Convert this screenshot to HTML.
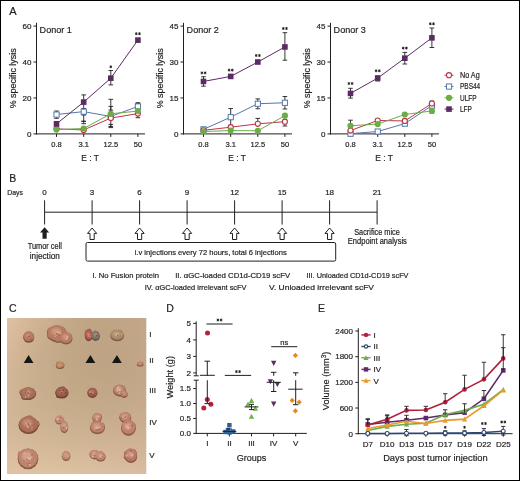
<!DOCTYPE html>
<html><head><meta charset="utf-8"><style>
html,body{margin:0;padding:0;background:#fff;overflow:hidden;}
svg{display:block;will-change:transform;}
text{font-family:"Liberation Sans", sans-serif;stroke:#231f20;stroke-width:0.2px;}
</style></head><body>
<svg width="520" height="481" viewBox="0 0 520 481" font-family='"Liberation Sans", sans-serif'>
<rect x="0" y="0" width="520" height="481" fill="#fff"/>
<text x="9.30" y="15.40" font-size="11" text-anchor="start" fill="#231f20" >A</text>
<line x1="36.50" y1="22.80" x2="36.50" y2="134.40" stroke="#231f20" stroke-width="1" />
<line x1="36.00" y1="133.90" x2="145.00" y2="133.90" stroke="#231f20" stroke-width="1" />
<line x1="33.50" y1="133.90" x2="36.50" y2="133.90" stroke="#231f20" stroke-width="1" />
<text x="31.50" y="136.70" font-size="8" text-anchor="end" fill="#231f20" >0</text>
<line x1="33.50" y1="97.97" x2="36.50" y2="97.97" stroke="#231f20" stroke-width="1" />
<text x="31.50" y="100.77" font-size="8" text-anchor="end" fill="#231f20" >20</text>
<line x1="33.50" y1="62.03" x2="36.50" y2="62.03" stroke="#231f20" stroke-width="1" />
<text x="31.50" y="64.83" font-size="8" text-anchor="end" fill="#231f20" >40</text>
<line x1="33.50" y1="26.10" x2="36.50" y2="26.10" stroke="#231f20" stroke-width="1" />
<text x="31.50" y="28.90" font-size="8" text-anchor="end" fill="#231f20" >60</text>
<line x1="56.50" y1="133.90" x2="56.50" y2="136.90" stroke="#231f20" stroke-width="1" />
<text x="56.50" y="147.30" font-size="7.5" text-anchor="middle" fill="#231f20" >0.8</text>
<line x1="83.70" y1="133.90" x2="83.70" y2="136.90" stroke="#231f20" stroke-width="1" />
<text x="83.70" y="147.30" font-size="7.5" text-anchor="middle" fill="#231f20" >3.1</text>
<line x1="110.80" y1="133.90" x2="110.80" y2="136.90" stroke="#231f20" stroke-width="1" />
<text x="110.80" y="147.30" font-size="7.5" text-anchor="middle" fill="#231f20" >12.5</text>
<line x1="137.90" y1="133.90" x2="137.90" y2="136.90" stroke="#231f20" stroke-width="1" />
<text x="137.90" y="147.30" font-size="7.5" text-anchor="middle" fill="#231f20" >50</text>
<text x="90.00" y="161.00" font-size="9.6" text-anchor="middle" fill="#231f20" textLength="17.6" lengthAdjust="spacingAndGlyphs" >E : T</text>
<text x="39.60" y="33.40" font-size="9.6" text-anchor="start" fill="#231f20" textLength="32.2" lengthAdjust="spacingAndGlyphs" >Donor 1</text>
<text transform="translate(15.70,78.3) rotate(-90)" font-size="9.2" text-anchor="middle" fill="#231f20" textLength="60" lengthAdjust="spacingAndGlyphs">% specific lysis</text>
<line x1="56.50" y1="111.00" x2="56.50" y2="118.30" stroke="#231f20" stroke-width="0.9" />
<line x1="54.20" y1="111.00" x2="58.80" y2="111.00" stroke="#231f20" stroke-width="0.9" />
<line x1="54.20" y1="118.30" x2="58.80" y2="118.30" stroke="#231f20" stroke-width="0.9" />
<line x1="56.50" y1="121.80" x2="56.50" y2="126.50" stroke="#231f20" stroke-width="0.9" />
<line x1="54.20" y1="121.80" x2="58.80" y2="121.80" stroke="#231f20" stroke-width="0.9" />
<line x1="54.20" y1="126.50" x2="58.80" y2="126.50" stroke="#231f20" stroke-width="0.9" />
<line x1="83.70" y1="94.90" x2="83.70" y2="109.50" stroke="#231f20" stroke-width="0.9" />
<line x1="81.40" y1="94.90" x2="86.00" y2="94.90" stroke="#231f20" stroke-width="0.9" />
<line x1="81.40" y1="109.50" x2="86.00" y2="109.50" stroke="#231f20" stroke-width="0.9" />
<line x1="83.70" y1="108.60" x2="83.70" y2="114.80" stroke="#231f20" stroke-width="0.9" />
<line x1="81.40" y1="108.60" x2="86.00" y2="108.60" stroke="#231f20" stroke-width="0.9" />
<line x1="81.40" y1="114.80" x2="86.00" y2="114.80" stroke="#231f20" stroke-width="0.9" />
<line x1="83.70" y1="114.80" x2="83.70" y2="123.70" stroke="#231f20" stroke-width="0.9" />
<line x1="81.40" y1="114.80" x2="86.00" y2="114.80" stroke="#231f20" stroke-width="0.9" />
<line x1="81.40" y1="123.70" x2="86.00" y2="123.70" stroke="#231f20" stroke-width="0.9" />
<line x1="83.70" y1="121.30" x2="83.70" y2="121.30" stroke="#231f20" stroke-width="0.9" />
<line x1="81.40" y1="121.30" x2="86.00" y2="121.30" stroke="#231f20" stroke-width="0.9" />
<line x1="81.40" y1="121.30" x2="86.00" y2="121.30" stroke="#231f20" stroke-width="0.9" />
<line x1="110.80" y1="70.50" x2="110.80" y2="84.90" stroke="#231f20" stroke-width="0.9" />
<line x1="108.50" y1="70.50" x2="113.10" y2="70.50" stroke="#231f20" stroke-width="0.9" />
<line x1="108.50" y1="84.90" x2="113.10" y2="84.90" stroke="#231f20" stroke-width="0.9" />
<line x1="110.80" y1="99.30" x2="110.80" y2="127.60" stroke="#231f20" stroke-width="0.9" />
<line x1="108.50" y1="99.30" x2="113.10" y2="99.30" stroke="#231f20" stroke-width="0.9" />
<line x1="108.50" y1="127.60" x2="113.10" y2="127.60" stroke="#231f20" stroke-width="0.9" />
<line x1="110.80" y1="106.40" x2="110.80" y2="110.10" stroke="#231f20" stroke-width="0.9" />
<line x1="108.50" y1="106.40" x2="113.10" y2="106.40" stroke="#231f20" stroke-width="0.9" />
<line x1="108.50" y1="110.10" x2="113.10" y2="110.10" stroke="#231f20" stroke-width="0.9" />
<line x1="110.80" y1="124.40" x2="110.80" y2="126.50" stroke="#231f20" stroke-width="0.9" />
<line x1="108.50" y1="124.40" x2="113.10" y2="124.40" stroke="#231f20" stroke-width="0.9" />
<line x1="108.50" y1="126.50" x2="113.10" y2="126.50" stroke="#231f20" stroke-width="0.9" />
<line x1="137.90" y1="102.70" x2="137.90" y2="117.70" stroke="#231f20" stroke-width="0.9" />
<line x1="135.60" y1="102.70" x2="140.20" y2="102.70" stroke="#231f20" stroke-width="0.9" />
<line x1="135.60" y1="117.70" x2="140.20" y2="117.70" stroke="#231f20" stroke-width="0.9" />
<line x1="137.90" y1="103.80" x2="137.90" y2="103.80" stroke="#231f20" stroke-width="0.9" />
<line x1="135.60" y1="103.80" x2="140.20" y2="103.80" stroke="#231f20" stroke-width="0.9" />
<line x1="135.60" y1="103.80" x2="140.20" y2="103.80" stroke="#231f20" stroke-width="0.9" />
<line x1="137.90" y1="38.60" x2="137.90" y2="41.80" stroke="#231f20" stroke-width="0.9" />
<line x1="135.60" y1="38.60" x2="140.20" y2="38.60" stroke="#231f20" stroke-width="0.9" />
<line x1="135.60" y1="41.80" x2="140.20" y2="41.80" stroke="#231f20" stroke-width="0.9" />
<polyline points="56.50,114.50 83.70,111.62 110.80,116.47 137.90,106.41" fill="none" stroke="#5677a8" stroke-width="1"/>
<polyline points="56.50,128.87 83.70,129.95 110.80,118.09 137.90,113.60" fill="none" stroke="#bd3548" stroke-width="1"/>
<polyline points="56.50,129.59 83.70,128.51 110.80,113.78 137.90,111.08" fill="none" stroke="#6cad48" stroke-width="1"/>
<polyline points="56.50,123.84 83.70,102.10 110.80,78.20 137.90,40.11" fill="none" stroke="#5b2c63" stroke-width="1"/>
<rect x="53.95" y="111.95" width="5.20" height="5.20" fill="#fff" stroke="#5677a8" stroke-width="1.0"/>
<rect x="81.15" y="109.07" width="5.20" height="5.20" fill="#fff" stroke="#5677a8" stroke-width="1.0"/>
<rect x="108.25" y="113.92" width="5.20" height="5.20" fill="#fff" stroke="#5677a8" stroke-width="1.0"/>
<rect x="135.35" y="103.86" width="5.20" height="5.20" fill="#fff" stroke="#5677a8" stroke-width="1.0"/>
<circle cx="56.50" cy="128.87" r="2.55" fill="#fff" stroke="#bd3548" stroke-width="1.1"/>
<circle cx="83.70" cy="129.95" r="2.55" fill="#fff" stroke="#bd3548" stroke-width="1.1"/>
<circle cx="110.80" cy="118.09" r="2.55" fill="#fff" stroke="#bd3548" stroke-width="1.1"/>
<circle cx="137.90" cy="113.60" r="2.55" fill="#fff" stroke="#bd3548" stroke-width="1.1"/>
<circle cx="56.50" cy="129.59" r="3.1" fill="#6cad48"/>
<circle cx="83.70" cy="128.51" r="3.1" fill="#6cad48"/>
<circle cx="110.80" cy="113.78" r="3.1" fill="#6cad48"/>
<circle cx="137.90" cy="111.08" r="3.1" fill="#6cad48"/>
<rect x="53.70" y="121.04" width="5.6" height="5.6" fill="#5b2c63"/>
<rect x="80.90" y="99.30" width="5.6" height="5.6" fill="#5b2c63"/>
<rect x="108.00" y="75.40" width="5.6" height="5.6" fill="#5b2c63"/>
<rect x="135.10" y="37.31" width="5.6" height="5.6" fill="#5b2c63"/>
<path d="M110.80,65.40L110.80,68.20M109.59,66.10L112.01,67.50M109.59,67.50L112.01,66.10" stroke="#231f20" stroke-width="0.95" fill="none"/>
<path d="M136.30,32.30L136.30,35.10M135.09,33.00L137.51,34.40M135.09,34.40L137.51,33.00" stroke="#231f20" stroke-width="0.95" fill="none"/>
<path d="M139.50,32.30L139.50,35.10M138.29,33.00L140.71,34.40M138.29,34.40L140.71,33.00" stroke="#231f20" stroke-width="0.95" fill="none"/>
<line x1="183.50" y1="22.80" x2="183.50" y2="134.40" stroke="#231f20" stroke-width="1" />
<line x1="183.00" y1="133.90" x2="292.00" y2="133.90" stroke="#231f20" stroke-width="1" />
<line x1="180.50" y1="133.90" x2="183.50" y2="133.90" stroke="#231f20" stroke-width="1" />
<text x="178.50" y="136.70" font-size="8" text-anchor="end" fill="#231f20" >0</text>
<line x1="180.50" y1="97.97" x2="183.50" y2="97.97" stroke="#231f20" stroke-width="1" />
<text x="178.50" y="100.77" font-size="8" text-anchor="end" fill="#231f20" >15</text>
<line x1="180.50" y1="62.03" x2="183.50" y2="62.03" stroke="#231f20" stroke-width="1" />
<text x="178.50" y="64.83" font-size="8" text-anchor="end" fill="#231f20" >30</text>
<line x1="180.50" y1="26.10" x2="183.50" y2="26.10" stroke="#231f20" stroke-width="1" />
<text x="178.50" y="28.90" font-size="8" text-anchor="end" fill="#231f20" >45</text>
<line x1="203.50" y1="133.90" x2="203.50" y2="136.90" stroke="#231f20" stroke-width="1" />
<text x="203.50" y="147.30" font-size="7.5" text-anchor="middle" fill="#231f20" >0.8</text>
<line x1="230.70" y1="133.90" x2="230.70" y2="136.90" stroke="#231f20" stroke-width="1" />
<text x="230.70" y="147.30" font-size="7.5" text-anchor="middle" fill="#231f20" >3.1</text>
<line x1="257.80" y1="133.90" x2="257.80" y2="136.90" stroke="#231f20" stroke-width="1" />
<text x="257.80" y="147.30" font-size="7.5" text-anchor="middle" fill="#231f20" >12.5</text>
<line x1="284.90" y1="133.90" x2="284.90" y2="136.90" stroke="#231f20" stroke-width="1" />
<text x="284.90" y="147.30" font-size="7.5" text-anchor="middle" fill="#231f20" >50</text>
<text x="237.00" y="161.00" font-size="9.6" text-anchor="middle" fill="#231f20" textLength="17.6" lengthAdjust="spacingAndGlyphs" >E : T</text>
<text x="186.60" y="33.40" font-size="9.6" text-anchor="start" fill="#231f20" textLength="32.2" lengthAdjust="spacingAndGlyphs" >Donor 2</text>
<text transform="translate(162.70,78.3) rotate(-90)" font-size="9.2" text-anchor="middle" fill="#231f20" textLength="60" lengthAdjust="spacingAndGlyphs">% specific lysis</text>
<line x1="203.50" y1="76.70" x2="203.50" y2="86.20" stroke="#231f20" stroke-width="0.9" />
<line x1="201.20" y1="76.70" x2="205.80" y2="76.70" stroke="#231f20" stroke-width="0.9" />
<line x1="201.20" y1="86.20" x2="205.80" y2="86.20" stroke="#231f20" stroke-width="0.9" />
<line x1="203.50" y1="127.30" x2="203.50" y2="131.00" stroke="#231f20" stroke-width="0.9" />
<line x1="201.20" y1="127.30" x2="205.80" y2="127.30" stroke="#231f20" stroke-width="0.9" />
<line x1="201.20" y1="131.00" x2="205.80" y2="131.00" stroke="#231f20" stroke-width="0.9" />
<line x1="230.70" y1="108.50" x2="230.70" y2="125.30" stroke="#231f20" stroke-width="0.9" />
<line x1="228.40" y1="108.50" x2="233.00" y2="108.50" stroke="#231f20" stroke-width="0.9" />
<line x1="228.40" y1="125.30" x2="233.00" y2="125.30" stroke="#231f20" stroke-width="0.9" />
<line x1="230.70" y1="74.80" x2="230.70" y2="78.20" stroke="#231f20" stroke-width="0.9" />
<line x1="228.40" y1="74.80" x2="233.00" y2="74.80" stroke="#231f20" stroke-width="0.9" />
<line x1="228.40" y1="78.20" x2="233.00" y2="78.20" stroke="#231f20" stroke-width="0.9" />
<line x1="257.80" y1="98.90" x2="257.80" y2="108.75" stroke="#231f20" stroke-width="0.9" />
<line x1="255.50" y1="98.90" x2="260.10" y2="98.90" stroke="#231f20" stroke-width="0.9" />
<line x1="255.50" y1="108.75" x2="260.10" y2="108.75" stroke="#231f20" stroke-width="0.9" />
<line x1="257.80" y1="118.40" x2="257.80" y2="123.90" stroke="#231f20" stroke-width="0.9" />
<line x1="255.50" y1="118.40" x2="260.10" y2="118.40" stroke="#231f20" stroke-width="0.9" />
<line x1="257.80" y1="60.30" x2="257.80" y2="63.50" stroke="#231f20" stroke-width="0.9" />
<line x1="255.50" y1="60.30" x2="260.10" y2="60.30" stroke="#231f20" stroke-width="0.9" />
<line x1="255.50" y1="63.50" x2="260.10" y2="63.50" stroke="#231f20" stroke-width="0.9" />
<line x1="284.90" y1="96.50" x2="284.90" y2="109.00" stroke="#231f20" stroke-width="0.9" />
<line x1="282.60" y1="96.50" x2="287.20" y2="96.50" stroke="#231f20" stroke-width="0.9" />
<line x1="282.60" y1="109.00" x2="287.20" y2="109.00" stroke="#231f20" stroke-width="0.9" />
<line x1="284.90" y1="121.70" x2="284.90" y2="126.00" stroke="#231f20" stroke-width="0.9" />
<line x1="282.60" y1="126.00" x2="287.20" y2="126.00" stroke="#231f20" stroke-width="0.9" />
<line x1="284.90" y1="32.70" x2="284.90" y2="60.20" stroke="#231f20" stroke-width="0.9" />
<line x1="282.60" y1="32.70" x2="287.20" y2="32.70" stroke="#231f20" stroke-width="0.9" />
<line x1="282.60" y1="60.20" x2="287.20" y2="60.20" stroke="#231f20" stroke-width="0.9" />
<polyline points="203.50,129.35 230.70,117.13 257.80,103.72 284.90,102.76" fill="none" stroke="#5677a8" stroke-width="1"/>
<polyline points="203.50,130.31 230.70,127.19 257.80,123.84 284.90,121.68" fill="none" stroke="#bd3548" stroke-width="1"/>
<polyline points="203.50,131.50 230.70,130.55 257.80,130.79 284.90,115.69" fill="none" stroke="#6cad48" stroke-width="1"/>
<polyline points="203.50,81.44 230.70,76.41 257.80,62.03 284.90,46.94" fill="none" stroke="#5b2c63" stroke-width="1"/>
<rect x="200.95" y="126.80" width="5.20" height="5.20" fill="#fff" stroke="#5677a8" stroke-width="1.0"/>
<rect x="228.15" y="114.58" width="5.20" height="5.20" fill="#fff" stroke="#5677a8" stroke-width="1.0"/>
<rect x="255.25" y="101.17" width="5.20" height="5.20" fill="#fff" stroke="#5677a8" stroke-width="1.0"/>
<rect x="282.35" y="100.21" width="5.20" height="5.20" fill="#fff" stroke="#5677a8" stroke-width="1.0"/>
<circle cx="203.50" cy="130.31" r="2.55" fill="#fff" stroke="#bd3548" stroke-width="1.1"/>
<circle cx="230.70" cy="127.19" r="2.55" fill="#fff" stroke="#bd3548" stroke-width="1.1"/>
<circle cx="257.80" cy="123.84" r="2.55" fill="#fff" stroke="#bd3548" stroke-width="1.1"/>
<circle cx="284.90" cy="121.68" r="2.55" fill="#fff" stroke="#bd3548" stroke-width="1.1"/>
<circle cx="203.50" cy="131.50" r="3.1" fill="#6cad48"/>
<circle cx="230.70" cy="130.55" r="3.1" fill="#6cad48"/>
<circle cx="257.80" cy="130.79" r="3.1" fill="#6cad48"/>
<circle cx="284.90" cy="115.69" r="3.1" fill="#6cad48"/>
<rect x="200.70" y="78.64" width="5.6" height="5.6" fill="#5b2c63"/>
<rect x="227.90" y="73.61" width="5.6" height="5.6" fill="#5b2c63"/>
<rect x="255.00" y="59.23" width="5.6" height="5.6" fill="#5b2c63"/>
<rect x="282.10" y="44.14" width="5.6" height="5.6" fill="#5b2c63"/>
<path d="M201.90,71.50L201.90,74.30M200.69,72.20L203.11,73.60M200.69,73.60L203.11,72.20" stroke="#231f20" stroke-width="0.95" fill="none"/>
<path d="M205.10,71.50L205.10,74.30M203.89,72.20L206.31,73.60M203.89,73.60L206.31,72.20" stroke="#231f20" stroke-width="0.95" fill="none"/>
<path d="M229.10,68.70L229.10,71.50M227.89,69.40L230.31,70.80M227.89,70.80L230.31,69.40" stroke="#231f20" stroke-width="0.95" fill="none"/>
<path d="M232.30,68.70L232.30,71.50M231.09,69.40L233.51,70.80M231.09,70.80L233.51,69.40" stroke="#231f20" stroke-width="0.95" fill="none"/>
<path d="M256.20,54.10L256.20,56.90M254.99,54.80L257.41,56.20M254.99,56.20L257.41,54.80" stroke="#231f20" stroke-width="0.95" fill="none"/>
<path d="M259.40,54.10L259.40,56.90M258.19,54.80L260.61,56.20M258.19,56.20L260.61,54.80" stroke="#231f20" stroke-width="0.95" fill="none"/>
<path d="M283.30,27.10L283.30,29.90M282.09,27.80L284.51,29.20M282.09,29.20L284.51,27.80" stroke="#231f20" stroke-width="0.95" fill="none"/>
<path d="M286.50,27.10L286.50,29.90M285.29,27.80L287.71,29.20M285.29,29.20L287.71,27.80" stroke="#231f20" stroke-width="0.95" fill="none"/>
<line x1="330.50" y1="22.80" x2="330.50" y2="134.40" stroke="#231f20" stroke-width="1" />
<line x1="330.00" y1="133.90" x2="439.00" y2="133.90" stroke="#231f20" stroke-width="1" />
<line x1="327.50" y1="133.90" x2="330.50" y2="133.90" stroke="#231f20" stroke-width="1" />
<text x="325.50" y="136.70" font-size="8" text-anchor="end" fill="#231f20" >0</text>
<line x1="327.50" y1="97.97" x2="330.50" y2="97.97" stroke="#231f20" stroke-width="1" />
<text x="325.50" y="100.77" font-size="8" text-anchor="end" fill="#231f20" >15</text>
<line x1="327.50" y1="62.03" x2="330.50" y2="62.03" stroke="#231f20" stroke-width="1" />
<text x="325.50" y="64.83" font-size="8" text-anchor="end" fill="#231f20" >30</text>
<line x1="327.50" y1="26.10" x2="330.50" y2="26.10" stroke="#231f20" stroke-width="1" />
<text x="325.50" y="28.90" font-size="8" text-anchor="end" fill="#231f20" >45</text>
<line x1="350.50" y1="133.90" x2="350.50" y2="136.90" stroke="#231f20" stroke-width="1" />
<text x="350.50" y="147.30" font-size="7.5" text-anchor="middle" fill="#231f20" >0.8</text>
<line x1="377.70" y1="133.90" x2="377.70" y2="136.90" stroke="#231f20" stroke-width="1" />
<text x="377.70" y="147.30" font-size="7.5" text-anchor="middle" fill="#231f20" >3.1</text>
<line x1="404.80" y1="133.90" x2="404.80" y2="136.90" stroke="#231f20" stroke-width="1" />
<text x="404.80" y="147.30" font-size="7.5" text-anchor="middle" fill="#231f20" >12.5</text>
<line x1="431.90" y1="133.90" x2="431.90" y2="136.90" stroke="#231f20" stroke-width="1" />
<text x="431.90" y="147.30" font-size="7.5" text-anchor="middle" fill="#231f20" >50</text>
<text x="384.00" y="161.00" font-size="9.6" text-anchor="middle" fill="#231f20" textLength="17.6" lengthAdjust="spacingAndGlyphs" >E : T</text>
<text x="333.60" y="33.40" font-size="9.6" text-anchor="start" fill="#231f20" textLength="32.2" lengthAdjust="spacingAndGlyphs" >Donor 3</text>
<text transform="translate(309.70,78.3) rotate(-90)" font-size="9.2" text-anchor="middle" fill="#231f20" textLength="60" lengthAdjust="spacingAndGlyphs">% specific lysis</text>
<line x1="350.50" y1="88.30" x2="350.50" y2="98.10" stroke="#231f20" stroke-width="0.9" />
<line x1="348.20" y1="88.30" x2="352.80" y2="88.30" stroke="#231f20" stroke-width="0.9" />
<line x1="348.20" y1="98.10" x2="352.80" y2="98.10" stroke="#231f20" stroke-width="0.9" />
<line x1="350.50" y1="120.20" x2="350.50" y2="125.60" stroke="#231f20" stroke-width="0.9" />
<line x1="348.20" y1="120.20" x2="352.80" y2="120.20" stroke="#231f20" stroke-width="0.9" />
<line x1="377.70" y1="76.00" x2="377.70" y2="81.00" stroke="#231f20" stroke-width="0.9" />
<line x1="375.40" y1="76.00" x2="380.00" y2="76.00" stroke="#231f20" stroke-width="0.9" />
<line x1="375.40" y1="81.00" x2="380.00" y2="81.00" stroke="#231f20" stroke-width="0.9" />
<line x1="404.80" y1="52.40" x2="404.80" y2="64.00" stroke="#231f20" stroke-width="0.9" />
<line x1="402.50" y1="52.40" x2="407.10" y2="52.40" stroke="#231f20" stroke-width="0.9" />
<line x1="402.50" y1="64.00" x2="407.10" y2="64.00" stroke="#231f20" stroke-width="0.9" />
<line x1="431.90" y1="28.00" x2="431.90" y2="47.50" stroke="#231f20" stroke-width="0.9" />
<line x1="429.60" y1="28.00" x2="434.20" y2="28.00" stroke="#231f20" stroke-width="0.9" />
<line x1="429.60" y1="47.50" x2="434.20" y2="47.50" stroke="#231f20" stroke-width="0.9" />
<line x1="431.90" y1="101.00" x2="431.90" y2="113.00" stroke="#231f20" stroke-width="0.9" />
<line x1="429.60" y1="101.00" x2="434.20" y2="101.00" stroke="#231f20" stroke-width="0.9" />
<line x1="429.60" y1="113.00" x2="434.20" y2="113.00" stroke="#231f20" stroke-width="0.9" />
<polyline points="350.50,133.66 377.70,131.50 404.80,123.60 431.90,105.63" fill="none" stroke="#5677a8" stroke-width="1"/>
<polyline points="350.50,130.55 377.70,120.48 404.80,120.96 431.90,103.48" fill="none" stroke="#bd3548" stroke-width="1"/>
<polyline points="350.50,125.76 377.70,124.08 404.80,114.50 431.90,110.90" fill="none" stroke="#6cad48" stroke-width="1"/>
<polyline points="350.50,93.42 377.70,78.08 404.80,58.20 431.90,37.84" fill="none" stroke="#5b2c63" stroke-width="1"/>
<rect x="347.95" y="131.11" width="5.20" height="5.20" fill="#fff" stroke="#5677a8" stroke-width="1.0"/>
<rect x="375.15" y="128.95" width="5.20" height="5.20" fill="#fff" stroke="#5677a8" stroke-width="1.0"/>
<rect x="402.25" y="121.05" width="5.20" height="5.20" fill="#fff" stroke="#5677a8" stroke-width="1.0"/>
<rect x="429.35" y="103.08" width="5.20" height="5.20" fill="#fff" stroke="#5677a8" stroke-width="1.0"/>
<circle cx="350.50" cy="130.55" r="2.55" fill="#fff" stroke="#bd3548" stroke-width="1.1"/>
<circle cx="377.70" cy="120.48" r="2.55" fill="#fff" stroke="#bd3548" stroke-width="1.1"/>
<circle cx="404.80" cy="120.96" r="2.55" fill="#fff" stroke="#bd3548" stroke-width="1.1"/>
<circle cx="431.90" cy="103.48" r="2.55" fill="#fff" stroke="#bd3548" stroke-width="1.1"/>
<circle cx="350.50" cy="125.76" r="3.1" fill="#6cad48"/>
<circle cx="377.70" cy="124.08" r="3.1" fill="#6cad48"/>
<circle cx="404.80" cy="114.50" r="3.1" fill="#6cad48"/>
<circle cx="431.90" cy="110.90" r="3.1" fill="#6cad48"/>
<rect x="347.70" y="90.62" width="5.6" height="5.6" fill="#5b2c63"/>
<rect x="374.90" y="75.28" width="5.6" height="5.6" fill="#5b2c63"/>
<rect x="402.00" y="55.40" width="5.6" height="5.6" fill="#5b2c63"/>
<rect x="429.10" y="35.04" width="5.6" height="5.6" fill="#5b2c63"/>
<path d="M348.90,82.10L348.90,84.90M347.69,82.80L350.11,84.20M347.69,84.20L350.11,82.80" stroke="#231f20" stroke-width="0.95" fill="none"/>
<path d="M352.10,82.10L352.10,84.90M350.89,82.80L353.31,84.20M350.89,84.20L353.31,82.80" stroke="#231f20" stroke-width="0.95" fill="none"/>
<path d="M376.10,69.40L376.10,72.20M374.89,70.10L377.31,71.50M374.89,71.50L377.31,70.10" stroke="#231f20" stroke-width="0.95" fill="none"/>
<path d="M379.30,69.40L379.30,72.20M378.09,70.10L380.51,71.50M378.09,71.50L380.51,70.10" stroke="#231f20" stroke-width="0.95" fill="none"/>
<path d="M403.20,46.70L403.20,49.50M401.99,47.40L404.41,48.80M401.99,48.80L404.41,47.40" stroke="#231f20" stroke-width="0.95" fill="none"/>
<path d="M406.40,46.70L406.40,49.50M405.19,47.40L407.61,48.80M405.19,48.80L407.61,47.40" stroke="#231f20" stroke-width="0.95" fill="none"/>
<path d="M430.30,22.40L430.30,25.20M429.09,23.10L431.51,24.50M429.09,24.50L431.51,23.10" stroke="#231f20" stroke-width="0.95" fill="none"/>
<path d="M433.50,22.40L433.50,25.20M432.29,23.10L434.71,24.50M432.29,24.50L434.71,23.10" stroke="#231f20" stroke-width="0.95" fill="none"/>
<line x1="444.50" y1="75.20" x2="453.50" y2="75.20" stroke="#bd3548" stroke-width="1" />
<circle cx="449.00" cy="75.20" r="2.55" fill="#fff" stroke="#bd3548" stroke-width="1.1"/>
<text x="460.00" y="78.10" font-size="8.2" text-anchor="start" fill="#231f20" textLength="19.7" lengthAdjust="spacingAndGlyphs" >No Ag</text>
<line x1="444.50" y1="86.50" x2="453.50" y2="86.50" stroke="#5677a8" stroke-width="1" />
<rect x="446.45" y="83.95" width="5.20" height="5.20" fill="#fff" stroke="#5677a8" stroke-width="1.0"/>
<text x="460.00" y="89.40" font-size="8.2" text-anchor="start" fill="#231f20" textLength="20.2" lengthAdjust="spacingAndGlyphs" >PBS44</text>
<line x1="444.50" y1="97.80" x2="453.50" y2="97.80" stroke="#6cad48" stroke-width="1" />
<circle cx="449.00" cy="97.80" r="3.1" fill="#6cad48"/>
<text x="460.00" y="100.70" font-size="8.2" text-anchor="start" fill="#231f20" textLength="16.7" lengthAdjust="spacingAndGlyphs" >ULFP</text>
<line x1="444.50" y1="109.10" x2="453.50" y2="109.10" stroke="#5b2c63" stroke-width="1" />
<rect x="446.20" y="106.30" width="5.6" height="5.6" fill="#5b2c63"/>
<text x="460.00" y="112.00" font-size="8.2" text-anchor="start" fill="#231f20" textLength="11.9" lengthAdjust="spacingAndGlyphs" >LFP</text>
<text x="9.20" y="182.00" font-size="10.5" text-anchor="start" fill="#231f20" >B</text>
<text x="7.20" y="195.40" font-size="8" text-anchor="start" fill="#231f20" textLength="15.8" lengthAdjust="spacingAndGlyphs" >Days</text>
<line x1="44.60" y1="212.20" x2="377.10" y2="212.20" stroke="#231f20" stroke-width="1" />
<line x1="44.60" y1="200.30" x2="44.60" y2="224.50" stroke="#231f20" stroke-width="1" />
<text x="44.60" y="195.10" font-size="8" text-anchor="middle" fill="#231f20" >0</text>
<line x1="92.10" y1="200.30" x2="92.10" y2="224.50" stroke="#231f20" stroke-width="1" />
<text x="92.10" y="195.10" font-size="8" text-anchor="middle" fill="#231f20" >3</text>
<line x1="139.60" y1="200.30" x2="139.60" y2="224.50" stroke="#231f20" stroke-width="1" />
<text x="139.60" y="195.10" font-size="8" text-anchor="middle" fill="#231f20" >6</text>
<line x1="187.10" y1="200.30" x2="187.10" y2="224.50" stroke="#231f20" stroke-width="1" />
<text x="187.10" y="195.10" font-size="8" text-anchor="middle" fill="#231f20" >9</text>
<line x1="234.60" y1="200.30" x2="234.60" y2="224.50" stroke="#231f20" stroke-width="1" />
<text x="234.60" y="195.10" font-size="8" text-anchor="middle" fill="#231f20" >12</text>
<line x1="282.10" y1="200.30" x2="282.10" y2="224.50" stroke="#231f20" stroke-width="1" />
<text x="282.10" y="195.10" font-size="8" text-anchor="middle" fill="#231f20" >15</text>
<line x1="329.60" y1="200.30" x2="329.60" y2="224.50" stroke="#231f20" stroke-width="1" />
<text x="329.60" y="195.10" font-size="8" text-anchor="middle" fill="#231f20" >18</text>
<line x1="377.10" y1="200.30" x2="377.10" y2="224.50" stroke="#231f20" stroke-width="1" />
<text x="377.10" y="195.10" font-size="8" text-anchor="middle" fill="#231f20" >21</text>
<polygon points="44.60,227.20 49.20,232.60 46.70,232.60 46.70,238.70 42.50,238.70 42.50,232.60 40.00,232.60" fill="#231f20"/>
<polygon points="92.10,228.00 96.70,233.40 94.20,233.40 94.20,239.50 90.00,239.50 90.00,233.40 87.50,233.40" fill="#fff" stroke="#231f20" stroke-width="1" stroke-linejoin="miter"/>
<polygon points="139.60,228.00 144.20,233.40 141.70,233.40 141.70,239.50 137.50,239.50 137.50,233.40 135.00,233.40" fill="#fff" stroke="#231f20" stroke-width="1" stroke-linejoin="miter"/>
<polygon points="187.10,228.00 191.70,233.40 189.20,233.40 189.20,239.50 185.00,239.50 185.00,233.40 182.50,233.40" fill="#fff" stroke="#231f20" stroke-width="1" stroke-linejoin="miter"/>
<polygon points="234.60,228.00 239.20,233.40 236.70,233.40 236.70,239.50 232.50,239.50 232.50,233.40 230.00,233.40" fill="#fff" stroke="#231f20" stroke-width="1" stroke-linejoin="miter"/>
<polygon points="282.10,228.00 286.70,233.40 284.20,233.40 284.20,239.50 280.00,239.50 280.00,233.40 277.50,233.40" fill="#fff" stroke="#231f20" stroke-width="1" stroke-linejoin="miter"/>
<polygon points="329.60,228.00 334.20,233.40 331.70,233.40 331.70,239.50 327.50,239.50 327.50,233.40 325.00,233.40" fill="#fff" stroke="#231f20" stroke-width="1" stroke-linejoin="miter"/>
<text x="44.80" y="248.50" font-size="8.2" text-anchor="middle" fill="#231f20" textLength="34.3" lengthAdjust="spacingAndGlyphs" >Tumor cell</text>
<text x="44.80" y="258.80" font-size="8.2" text-anchor="middle" fill="#231f20" textLength="30" lengthAdjust="spacingAndGlyphs" >injection</text>
<rect x="86.0" y="242.5" width="249.7" height="18.6" rx="1.5" fill="none" stroke="#231f20" stroke-width="1"/>
<text x="210.70" y="255.20" font-size="8" text-anchor="middle" fill="#231f20" textLength="152" lengthAdjust="spacingAndGlyphs" >i.v injections every 72 hours, total 6 injections</text>
<text x="377.00" y="234.50" font-size="8.2" text-anchor="middle" fill="#231f20" textLength="45.6" lengthAdjust="spacingAndGlyphs" >Sacrifice mice</text>
<text x="377.35" y="244.00" font-size="8.2" text-anchor="middle" fill="#231f20" textLength="59" lengthAdjust="spacingAndGlyphs" >Endpoint analysis</text>
<text x="92.50" y="277.70" font-size="7.6" text-anchor="start" fill="#231f20" textLength="66.5" lengthAdjust="spacingAndGlyphs" >I. No Fusion protein</text>
<text x="175.20" y="277.70" font-size="7.6" text-anchor="start" fill="#231f20" textLength="115" lengthAdjust="spacingAndGlyphs" >II. &#945;GC-loaded CD1d-CD19 scFV</text>
<text x="306.50" y="277.70" font-size="7.6" text-anchor="start" fill="#231f20" textLength="102" lengthAdjust="spacingAndGlyphs" >III. Unloaded CD1d-CD19 scFV</text>
<text x="144.80" y="290.10" font-size="7.6" text-anchor="start" fill="#231f20" textLength="101.7" lengthAdjust="spacingAndGlyphs" >IV. &#945;GC-loaded irrelevant scFV</text>
<text x="269.00" y="290.10" font-size="7.6" text-anchor="start" fill="#231f20" textLength="105" lengthAdjust="spacingAndGlyphs" >V. Unloaded irrelevant scFV</text>
<text x="9.00" y="311.80" font-size="10.5" text-anchor="start" fill="#231f20" >C</text>
<defs><linearGradient id="bgL" x1="0" y1="0" x2="1" y2="0"><stop offset="0" stop-color="rgb(216,181,145)" stop-opacity="1"/><stop offset="0.12" stop-color="rgb(216,181,145)" stop-opacity="0.7"/><stop offset="0.45" stop-color="rgb(216,181,145)" stop-opacity="0"/></linearGradient><linearGradient id="bgB" x1="0" y1="0" x2="0" y2="1"><stop offset="0.45" stop-color="rgb(218,184,148)" stop-opacity="0"/><stop offset="0.85" stop-color="rgb(218,184,148)" stop-opacity="0.85"/><stop offset="1" stop-color="rgb(218,184,148)" stop-opacity="1"/></linearGradient><filter id="soft" x="-20%" y="-20%" width="140%" height="140%"><feGaussianBlur stdDeviation="0.55"/></filter><filter id="soft2" x="-20%" y="-20%" width="140%" height="140%"><feGaussianBlur stdDeviation="1.2"/></filter></defs>
<defs><clipPath id="photoclip"><rect x="7" y="318" width="139.3" height="156"/></clipPath><filter id="bgblur" x="0" y="0" width="1" height="1"><feGaussianBlur stdDeviation="3.5"/></filter></defs>
<g clip-path="url(#photoclip)"><g filter="url(#bgblur)">
<rect x="-1" y="310" width="8" height="8" fill="#e2c3a4"/>
<rect x="7" y="310" width="8" height="8" fill="#e0c1a1"/>
<rect x="15" y="310" width="8" height="8" fill="#dabc9c"/>
<rect x="23" y="310" width="8" height="8" fill="#d6b898"/>
<rect x="31" y="310" width="8" height="8" fill="#d2b594"/>
<rect x="39" y="310" width="8" height="8" fill="#ceb191"/>
<rect x="47" y="310" width="8" height="8" fill="#caae8e"/>
<rect x="55" y="310" width="8" height="8" fill="#c8ac8c"/>
<rect x="63" y="310" width="8" height="8" fill="#c5aa8a"/>
<rect x="71" y="310" width="8" height="8" fill="#c3a888"/>
<rect x="79" y="310" width="8" height="8" fill="#c2a687"/>
<rect x="87" y="310" width="8" height="8" fill="#c1a586"/>
<rect x="95" y="310" width="8" height="8" fill="#c0a585"/>
<rect x="103" y="310" width="8" height="8" fill="#c0a485"/>
<rect x="111" y="310" width="8" height="8" fill="#c0a486"/>
<rect x="119" y="310" width="8" height="8" fill="#c1a587"/>
<rect x="127" y="310" width="8" height="8" fill="#c2a688"/>
<rect x="135" y="310" width="8" height="8" fill="#c3a789"/>
<rect x="143" y="310" width="8" height="8" fill="#c5a88b"/>
<rect x="151" y="310" width="8" height="8" fill="#c5a88b"/>
<rect x="-1" y="318" width="8" height="8" fill="#e1c2a2"/>
<rect x="7" y="318" width="8" height="8" fill="#debfa0"/>
<rect x="15" y="318" width="8" height="8" fill="#d9bb9b"/>
<rect x="23" y="318" width="8" height="8" fill="#d5b797"/>
<rect x="31" y="318" width="8" height="8" fill="#d0b494"/>
<rect x="39" y="318" width="8" height="8" fill="#cdb190"/>
<rect x="47" y="318" width="8" height="8" fill="#caae8d"/>
<rect x="55" y="318" width="8" height="8" fill="#c7ab8b"/>
<rect x="63" y="318" width="8" height="8" fill="#c4a989"/>
<rect x="71" y="318" width="8" height="8" fill="#c3a787"/>
<rect x="79" y="318" width="8" height="8" fill="#c1a686"/>
<rect x="87" y="318" width="8" height="8" fill="#c0a585"/>
<rect x="95" y="318" width="8" height="8" fill="#bfa485"/>
<rect x="103" y="318" width="8" height="8" fill="#bfa485"/>
<rect x="111" y="318" width="8" height="8" fill="#c0a485"/>
<rect x="119" y="318" width="8" height="8" fill="#c0a586"/>
<rect x="127" y="318" width="8" height="8" fill="#c1a587"/>
<rect x="135" y="318" width="8" height="8" fill="#c3a689"/>
<rect x="143" y="318" width="8" height="8" fill="#c5a88b"/>
<rect x="151" y="318" width="8" height="8" fill="#c5a88b"/>
<rect x="-1" y="326" width="8" height="8" fill="#debfa0"/>
<rect x="7" y="326" width="8" height="8" fill="#dbbd9d"/>
<rect x="15" y="326" width="8" height="8" fill="#d7b999"/>
<rect x="23" y="326" width="8" height="8" fill="#d2b695"/>
<rect x="31" y="326" width="8" height="8" fill="#cfb292"/>
<rect x="39" y="326" width="8" height="8" fill="#cbaf8f"/>
<rect x="47" y="326" width="8" height="8" fill="#c8ad8c"/>
<rect x="55" y="326" width="8" height="8" fill="#c6aa8a"/>
<rect x="63" y="326" width="8" height="8" fill="#c3a888"/>
<rect x="71" y="326" width="8" height="8" fill="#c2a786"/>
<rect x="79" y="326" width="8" height="8" fill="#c0a585"/>
<rect x="87" y="326" width="8" height="8" fill="#bfa485"/>
<rect x="95" y="326" width="8" height="8" fill="#bfa484"/>
<rect x="103" y="326" width="8" height="8" fill="#bfa484"/>
<rect x="111" y="326" width="8" height="8" fill="#bfa485"/>
<rect x="119" y="326" width="8" height="8" fill="#c0a485"/>
<rect x="127" y="326" width="8" height="8" fill="#c1a587"/>
<rect x="135" y="326" width="8" height="8" fill="#c2a688"/>
<rect x="143" y="326" width="8" height="8" fill="#c4a78a"/>
<rect x="151" y="326" width="8" height="8" fill="#c4a78a"/>
<rect x="-1" y="334" width="8" height="8" fill="#dbbd9d"/>
<rect x="7" y="334" width="8" height="8" fill="#d9bb9b"/>
<rect x="15" y="334" width="8" height="8" fill="#d4b897"/>
<rect x="23" y="334" width="8" height="8" fill="#d0b494"/>
<rect x="31" y="334" width="8" height="8" fill="#cdb190"/>
<rect x="39" y="334" width="8" height="8" fill="#caae8e"/>
<rect x="47" y="334" width="8" height="8" fill="#c7ac8b"/>
<rect x="55" y="334" width="8" height="8" fill="#c4aa89"/>
<rect x="63" y="334" width="8" height="8" fill="#c2a887"/>
<rect x="71" y="334" width="8" height="8" fill="#c1a686"/>
<rect x="79" y="334" width="8" height="8" fill="#c0a585"/>
<rect x="87" y="334" width="8" height="8" fill="#bfa484"/>
<rect x="95" y="334" width="8" height="8" fill="#bea484"/>
<rect x="103" y="334" width="8" height="8" fill="#bea384"/>
<rect x="111" y="334" width="8" height="8" fill="#bea384"/>
<rect x="119" y="334" width="8" height="8" fill="#bfa485"/>
<rect x="127" y="334" width="8" height="8" fill="#c0a586"/>
<rect x="135" y="334" width="8" height="8" fill="#c2a688"/>
<rect x="143" y="334" width="8" height="8" fill="#c3a789"/>
<rect x="151" y="334" width="8" height="8" fill="#c3a789"/>
<rect x="-1" y="342" width="8" height="8" fill="#d9bc9c"/>
<rect x="7" y="342" width="8" height="8" fill="#d7ba9a"/>
<rect x="15" y="342" width="8" height="8" fill="#d3b696"/>
<rect x="23" y="342" width="8" height="8" fill="#cfb392"/>
<rect x="31" y="342" width="8" height="8" fill="#ccb08f"/>
<rect x="39" y="342" width="8" height="8" fill="#c9ad8d"/>
<rect x="47" y="342" width="8" height="8" fill="#c6ab8a"/>
<rect x="55" y="342" width="8" height="8" fill="#c4a988"/>
<rect x="63" y="342" width="8" height="8" fill="#c2a787"/>
<rect x="71" y="342" width="8" height="8" fill="#c0a685"/>
<rect x="79" y="342" width="8" height="8" fill="#bfa584"/>
<rect x="87" y="342" width="8" height="8" fill="#bea484"/>
<rect x="95" y="342" width="8" height="8" fill="#bea484"/>
<rect x="103" y="342" width="8" height="8" fill="#bea384"/>
<rect x="111" y="342" width="8" height="8" fill="#bea384"/>
<rect x="119" y="342" width="8" height="8" fill="#bfa485"/>
<rect x="127" y="342" width="8" height="8" fill="#c0a586"/>
<rect x="135" y="342" width="8" height="8" fill="#c1a687"/>
<rect x="143" y="342" width="8" height="8" fill="#c3a789"/>
<rect x="151" y="342" width="8" height="8" fill="#c3a789"/>
<rect x="-1" y="350" width="8" height="8" fill="#d7ba9a"/>
<rect x="7" y="350" width="8" height="8" fill="#d5b898"/>
<rect x="15" y="350" width="8" height="8" fill="#d1b594"/>
<rect x="23" y="350" width="8" height="8" fill="#ceb291"/>
<rect x="31" y="350" width="8" height="8" fill="#cbaf8e"/>
<rect x="39" y="350" width="8" height="8" fill="#c8ad8c"/>
<rect x="47" y="350" width="8" height="8" fill="#c5ab8a"/>
<rect x="55" y="350" width="8" height="8" fill="#c3a988"/>
<rect x="63" y="350" width="8" height="8" fill="#c2a786"/>
<rect x="71" y="350" width="8" height="8" fill="#c0a685"/>
<rect x="79" y="350" width="8" height="8" fill="#bfa584"/>
<rect x="87" y="350" width="8" height="8" fill="#bea484"/>
<rect x="95" y="350" width="8" height="8" fill="#bea484"/>
<rect x="103" y="350" width="8" height="8" fill="#bea484"/>
<rect x="111" y="350" width="8" height="8" fill="#bea484"/>
<rect x="119" y="350" width="8" height="8" fill="#bfa485"/>
<rect x="127" y="350" width="8" height="8" fill="#c0a586"/>
<rect x="135" y="350" width="8" height="8" fill="#c1a687"/>
<rect x="143" y="350" width="8" height="8" fill="#c3a789"/>
<rect x="151" y="350" width="8" height="8" fill="#c3a789"/>
<rect x="-1" y="358" width="8" height="8" fill="#d5b998"/>
<rect x="7" y="358" width="8" height="8" fill="#d3b797"/>
<rect x="15" y="358" width="8" height="8" fill="#d0b493"/>
<rect x="23" y="358" width="8" height="8" fill="#cdb191"/>
<rect x="31" y="358" width="8" height="8" fill="#caaf8e"/>
<rect x="39" y="358" width="8" height="8" fill="#c7ad8c"/>
<rect x="47" y="358" width="8" height="8" fill="#c5ab8a"/>
<rect x="55" y="358" width="8" height="8" fill="#c3a988"/>
<rect x="63" y="358" width="8" height="8" fill="#c2a786"/>
<rect x="71" y="358" width="8" height="8" fill="#c0a685"/>
<rect x="79" y="358" width="8" height="8" fill="#bfa585"/>
<rect x="87" y="358" width="8" height="8" fill="#bfa584"/>
<rect x="95" y="358" width="8" height="8" fill="#bea484"/>
<rect x="103" y="358" width="8" height="8" fill="#bea484"/>
<rect x="111" y="358" width="8" height="8" fill="#bfa484"/>
<rect x="119" y="358" width="8" height="8" fill="#bfa485"/>
<rect x="127" y="358" width="8" height="8" fill="#c0a586"/>
<rect x="135" y="358" width="8" height="8" fill="#c2a687"/>
<rect x="143" y="358" width="8" height="8" fill="#c3a789"/>
<rect x="151" y="358" width="8" height="8" fill="#c3a789"/>
<rect x="-1" y="366" width="8" height="8" fill="#d4b897"/>
<rect x="7" y="366" width="8" height="8" fill="#d2b696"/>
<rect x="15" y="366" width="8" height="8" fill="#cfb493"/>
<rect x="23" y="366" width="8" height="8" fill="#ccb190"/>
<rect x="31" y="366" width="8" height="8" fill="#c9af8e"/>
<rect x="39" y="366" width="8" height="8" fill="#c7ad8b"/>
<rect x="47" y="366" width="8" height="8" fill="#c5ab8a"/>
<rect x="55" y="366" width="8" height="8" fill="#c3a988"/>
<rect x="63" y="366" width="8" height="8" fill="#c2a887"/>
<rect x="71" y="366" width="8" height="8" fill="#c1a786"/>
<rect x="79" y="366" width="8" height="8" fill="#c0a685"/>
<rect x="87" y="366" width="8" height="8" fill="#bfa584"/>
<rect x="95" y="366" width="8" height="8" fill="#bfa584"/>
<rect x="103" y="366" width="8" height="8" fill="#bfa584"/>
<rect x="111" y="366" width="8" height="8" fill="#bfa585"/>
<rect x="119" y="366" width="8" height="8" fill="#c0a586"/>
<rect x="127" y="366" width="8" height="8" fill="#c1a587"/>
<rect x="135" y="366" width="8" height="8" fill="#c2a688"/>
<rect x="143" y="366" width="8" height="8" fill="#c3a789"/>
<rect x="151" y="366" width="8" height="8" fill="#c3a789"/>
<rect x="-1" y="374" width="8" height="8" fill="#d3b797"/>
<rect x="7" y="374" width="8" height="8" fill="#d1b695"/>
<rect x="15" y="374" width="8" height="8" fill="#ceb392"/>
<rect x="23" y="374" width="8" height="8" fill="#ccb190"/>
<rect x="31" y="374" width="8" height="8" fill="#c9af8e"/>
<rect x="39" y="374" width="8" height="8" fill="#c7ad8c"/>
<rect x="47" y="374" width="8" height="8" fill="#c5ab8a"/>
<rect x="55" y="374" width="8" height="8" fill="#c4aa88"/>
<rect x="63" y="374" width="8" height="8" fill="#c2a887"/>
<rect x="71" y="374" width="8" height="8" fill="#c1a786"/>
<rect x="79" y="374" width="8" height="8" fill="#c0a786"/>
<rect x="87" y="374" width="8" height="8" fill="#c0a685"/>
<rect x="95" y="374" width="8" height="8" fill="#c0a685"/>
<rect x="103" y="374" width="8" height="8" fill="#c0a585"/>
<rect x="111" y="374" width="8" height="8" fill="#c0a586"/>
<rect x="119" y="374" width="8" height="8" fill="#c1a686"/>
<rect x="127" y="374" width="8" height="8" fill="#c1a687"/>
<rect x="135" y="374" width="8" height="8" fill="#c2a788"/>
<rect x="143" y="374" width="8" height="8" fill="#c4a88a"/>
<rect x="151" y="374" width="8" height="8" fill="#c4a88a"/>
<rect x="-1" y="382" width="8" height="8" fill="#d2b796"/>
<rect x="7" y="382" width="8" height="8" fill="#d1b595"/>
<rect x="15" y="382" width="8" height="8" fill="#ceb392"/>
<rect x="23" y="382" width="8" height="8" fill="#ccb190"/>
<rect x="31" y="382" width="8" height="8" fill="#c9af8e"/>
<rect x="39" y="382" width="8" height="8" fill="#c7ad8c"/>
<rect x="47" y="382" width="8" height="8" fill="#c6ac8a"/>
<rect x="55" y="382" width="8" height="8" fill="#c4aa89"/>
<rect x="63" y="382" width="8" height="8" fill="#c3a988"/>
<rect x="71" y="382" width="8" height="8" fill="#c2a887"/>
<rect x="79" y="382" width="8" height="8" fill="#c1a887"/>
<rect x="87" y="382" width="8" height="8" fill="#c1a786"/>
<rect x="95" y="382" width="8" height="8" fill="#c1a786"/>
<rect x="103" y="382" width="8" height="8" fill="#c1a686"/>
<rect x="111" y="382" width="8" height="8" fill="#c1a687"/>
<rect x="119" y="382" width="8" height="8" fill="#c1a787"/>
<rect x="127" y="382" width="8" height="8" fill="#c2a788"/>
<rect x="135" y="382" width="8" height="8" fill="#c3a889"/>
<rect x="143" y="382" width="8" height="8" fill="#c4a88a"/>
<rect x="151" y="382" width="8" height="8" fill="#c4a88a"/>
<rect x="-1" y="390" width="8" height="8" fill="#d2b696"/>
<rect x="7" y="390" width="8" height="8" fill="#d1b595"/>
<rect x="15" y="390" width="8" height="8" fill="#ceb392"/>
<rect x="23" y="390" width="8" height="8" fill="#ccb190"/>
<rect x="31" y="390" width="8" height="8" fill="#cab08e"/>
<rect x="39" y="390" width="8" height="8" fill="#c8ae8d"/>
<rect x="47" y="390" width="8" height="8" fill="#c7ad8b"/>
<rect x="55" y="390" width="8" height="8" fill="#c5ab8a"/>
<rect x="63" y="390" width="8" height="8" fill="#c4aa89"/>
<rect x="71" y="390" width="8" height="8" fill="#c3a988"/>
<rect x="79" y="390" width="8" height="8" fill="#c3a988"/>
<rect x="87" y="390" width="8" height="8" fill="#c2a887"/>
<rect x="95" y="390" width="8" height="8" fill="#c2a887"/>
<rect x="103" y="390" width="8" height="8" fill="#c2a887"/>
<rect x="111" y="390" width="8" height="8" fill="#c2a888"/>
<rect x="119" y="390" width="8" height="8" fill="#c3a888"/>
<rect x="127" y="390" width="8" height="8" fill="#c3a889"/>
<rect x="135" y="390" width="8" height="8" fill="#c4a98a"/>
<rect x="143" y="390" width="8" height="8" fill="#c5a98b"/>
<rect x="151" y="390" width="8" height="8" fill="#c5a98b"/>
<rect x="-1" y="398" width="8" height="8" fill="#d2b796"/>
<rect x="7" y="398" width="8" height="8" fill="#d1b695"/>
<rect x="15" y="398" width="8" height="8" fill="#cfb493"/>
<rect x="23" y="398" width="8" height="8" fill="#cdb291"/>
<rect x="31" y="398" width="8" height="8" fill="#cbb08f"/>
<rect x="39" y="398" width="8" height="8" fill="#c9af8e"/>
<rect x="47" y="398" width="8" height="8" fill="#c8ae8c"/>
<rect x="55" y="398" width="8" height="8" fill="#c7ac8b"/>
<rect x="63" y="398" width="8" height="8" fill="#c5ac8a"/>
<rect x="71" y="398" width="8" height="8" fill="#c5ab8a"/>
<rect x="79" y="398" width="8" height="8" fill="#c4aa89"/>
<rect x="87" y="398" width="8" height="8" fill="#c4aa89"/>
<rect x="95" y="398" width="8" height="8" fill="#c3a989"/>
<rect x="103" y="398" width="8" height="8" fill="#c3a989"/>
<rect x="111" y="398" width="8" height="8" fill="#c4a989"/>
<rect x="119" y="398" width="8" height="8" fill="#c4a98a"/>
<rect x="127" y="398" width="8" height="8" fill="#c5a98a"/>
<rect x="135" y="398" width="8" height="8" fill="#c6aa8b"/>
<rect x="143" y="398" width="8" height="8" fill="#c6aa8c"/>
<rect x="151" y="398" width="8" height="8" fill="#c6aa8c"/>
<rect x="-1" y="406" width="8" height="8" fill="#d2b796"/>
<rect x="7" y="406" width="8" height="8" fill="#d1b695"/>
<rect x="15" y="406" width="8" height="8" fill="#cfb493"/>
<rect x="23" y="406" width="8" height="8" fill="#ceb392"/>
<rect x="31" y="406" width="8" height="8" fill="#ccb190"/>
<rect x="39" y="406" width="8" height="8" fill="#cab08f"/>
<rect x="47" y="406" width="8" height="8" fill="#c9af8e"/>
<rect x="55" y="406" width="8" height="8" fill="#c8ae8d"/>
<rect x="63" y="406" width="8" height="8" fill="#c7ad8c"/>
<rect x="71" y="406" width="8" height="8" fill="#c6ac8b"/>
<rect x="79" y="406" width="8" height="8" fill="#c6ac8b"/>
<rect x="87" y="406" width="8" height="8" fill="#c5ab8b"/>
<rect x="95" y="406" width="8" height="8" fill="#c5ab8a"/>
<rect x="103" y="406" width="8" height="8" fill="#c5ab8b"/>
<rect x="111" y="406" width="8" height="8" fill="#c5ab8b"/>
<rect x="119" y="406" width="8" height="8" fill="#c6ab8b"/>
<rect x="127" y="406" width="8" height="8" fill="#c6ab8c"/>
<rect x="135" y="406" width="8" height="8" fill="#c7ab8d"/>
<rect x="143" y="406" width="8" height="8" fill="#c8ac8e"/>
<rect x="151" y="406" width="8" height="8" fill="#c8ac8e"/>
<rect x="-1" y="414" width="8" height="8" fill="#d3b797"/>
<rect x="7" y="414" width="8" height="8" fill="#d2b796"/>
<rect x="15" y="414" width="8" height="8" fill="#d0b594"/>
<rect x="23" y="414" width="8" height="8" fill="#cfb493"/>
<rect x="31" y="414" width="8" height="8" fill="#cdb391"/>
<rect x="39" y="414" width="8" height="8" fill="#ccb290"/>
<rect x="47" y="414" width="8" height="8" fill="#cbb08f"/>
<rect x="55" y="414" width="8" height="8" fill="#cab08e"/>
<rect x="63" y="414" width="8" height="8" fill="#c9af8e"/>
<rect x="71" y="414" width="8" height="8" fill="#c8ae8d"/>
<rect x="79" y="414" width="8" height="8" fill="#c8ae8d"/>
<rect x="87" y="414" width="8" height="8" fill="#c8ad8c"/>
<rect x="95" y="414" width="8" height="8" fill="#c7ad8c"/>
<rect x="103" y="414" width="8" height="8" fill="#c7ac8c"/>
<rect x="111" y="414" width="8" height="8" fill="#c7ac8d"/>
<rect x="119" y="414" width="8" height="8" fill="#c8ac8d"/>
<rect x="127" y="414" width="8" height="8" fill="#c8ac8e"/>
<rect x="135" y="414" width="8" height="8" fill="#c9ad8e"/>
<rect x="143" y="414" width="8" height="8" fill="#c9ad8f"/>
<rect x="151" y="414" width="8" height="8" fill="#c9ad8f"/>
<rect x="-1" y="422" width="8" height="8" fill="#d4b898"/>
<rect x="7" y="422" width="8" height="8" fill="#d3b897"/>
<rect x="15" y="422" width="8" height="8" fill="#d2b696"/>
<rect x="23" y="422" width="8" height="8" fill="#d0b594"/>
<rect x="31" y="422" width="8" height="8" fill="#cfb493"/>
<rect x="39" y="422" width="8" height="8" fill="#ceb392"/>
<rect x="47" y="422" width="8" height="8" fill="#cdb291"/>
<rect x="55" y="422" width="8" height="8" fill="#ccb190"/>
<rect x="63" y="422" width="8" height="8" fill="#cbb190"/>
<rect x="71" y="422" width="8" height="8" fill="#cbb08f"/>
<rect x="79" y="422" width="8" height="8" fill="#cab08f"/>
<rect x="87" y="422" width="8" height="8" fill="#caaf8f"/>
<rect x="95" y="422" width="8" height="8" fill="#caaf8f"/>
<rect x="103" y="422" width="8" height="8" fill="#caae8f"/>
<rect x="111" y="422" width="8" height="8" fill="#caae8f"/>
<rect x="119" y="422" width="8" height="8" fill="#caae8f"/>
<rect x="127" y="422" width="8" height="8" fill="#caae90"/>
<rect x="135" y="422" width="8" height="8" fill="#cbae90"/>
<rect x="143" y="422" width="8" height="8" fill="#cbae91"/>
<rect x="151" y="422" width="8" height="8" fill="#cbae91"/>
<rect x="-1" y="430" width="8" height="8" fill="#d6ba99"/>
<rect x="7" y="430" width="8" height="8" fill="#d5b998"/>
<rect x="15" y="430" width="8" height="8" fill="#d3b897"/>
<rect x="23" y="430" width="8" height="8" fill="#d2b796"/>
<rect x="31" y="430" width="8" height="8" fill="#d1b695"/>
<rect x="39" y="430" width="8" height="8" fill="#d0b594"/>
<rect x="47" y="430" width="8" height="8" fill="#cfb493"/>
<rect x="55" y="430" width="8" height="8" fill="#ceb493"/>
<rect x="63" y="430" width="8" height="8" fill="#ceb392"/>
<rect x="71" y="430" width="8" height="8" fill="#cdb292"/>
<rect x="79" y="430" width="8" height="8" fill="#cdb291"/>
<rect x="87" y="430" width="8" height="8" fill="#ccb191"/>
<rect x="95" y="430" width="8" height="8" fill="#ccb191"/>
<rect x="103" y="430" width="8" height="8" fill="#ccb191"/>
<rect x="111" y="430" width="8" height="8" fill="#ccb091"/>
<rect x="119" y="430" width="8" height="8" fill="#ccb091"/>
<rect x="127" y="430" width="8" height="8" fill="#ccb092"/>
<rect x="135" y="430" width="8" height="8" fill="#cdb092"/>
<rect x="143" y="430" width="8" height="8" fill="#cdb093"/>
<rect x="151" y="430" width="8" height="8" fill="#cdb093"/>
<rect x="-1" y="438" width="8" height="8" fill="#d7bb9b"/>
<rect x="7" y="438" width="8" height="8" fill="#d7bb9a"/>
<rect x="15" y="438" width="8" height="8" fill="#d5ba99"/>
<rect x="23" y="438" width="8" height="8" fill="#d4b998"/>
<rect x="31" y="438" width="8" height="8" fill="#d3b897"/>
<rect x="39" y="438" width="8" height="8" fill="#d3b796"/>
<rect x="47" y="438" width="8" height="8" fill="#d2b796"/>
<rect x="55" y="438" width="8" height="8" fill="#d1b695"/>
<rect x="63" y="438" width="8" height="8" fill="#d0b595"/>
<rect x="71" y="438" width="8" height="8" fill="#d0b594"/>
<rect x="79" y="438" width="8" height="8" fill="#d0b494"/>
<rect x="87" y="438" width="8" height="8" fill="#cfb494"/>
<rect x="95" y="438" width="8" height="8" fill="#cfb394"/>
<rect x="103" y="438" width="8" height="8" fill="#cfb394"/>
<rect x="111" y="438" width="8" height="8" fill="#cfb394"/>
<rect x="119" y="438" width="8" height="8" fill="#cfb394"/>
<rect x="127" y="438" width="8" height="8" fill="#cfb294"/>
<rect x="135" y="438" width="8" height="8" fill="#cfb295"/>
<rect x="143" y="438" width="8" height="8" fill="#cfb295"/>
<rect x="151" y="438" width="8" height="8" fill="#cfb295"/>
<rect x="-1" y="446" width="8" height="8" fill="#d9bd9c"/>
<rect x="7" y="446" width="8" height="8" fill="#d9bc9c"/>
<rect x="15" y="446" width="8" height="8" fill="#d8bc9b"/>
<rect x="23" y="446" width="8" height="8" fill="#d7bb9a"/>
<rect x="31" y="446" width="8" height="8" fill="#d6ba99"/>
<rect x="39" y="446" width="8" height="8" fill="#d5ba99"/>
<rect x="47" y="446" width="8" height="8" fill="#d5b998"/>
<rect x="55" y="446" width="8" height="8" fill="#d4b998"/>
<rect x="63" y="446" width="8" height="8" fill="#d4b897"/>
<rect x="71" y="446" width="8" height="8" fill="#d3b897"/>
<rect x="79" y="446" width="8" height="8" fill="#d3b797"/>
<rect x="87" y="446" width="8" height="8" fill="#d2b797"/>
<rect x="95" y="446" width="8" height="8" fill="#d2b696"/>
<rect x="103" y="446" width="8" height="8" fill="#d2b696"/>
<rect x="111" y="446" width="8" height="8" fill="#d2b597"/>
<rect x="119" y="446" width="8" height="8" fill="#d2b597"/>
<rect x="127" y="446" width="8" height="8" fill="#d2b597"/>
<rect x="135" y="446" width="8" height="8" fill="#d2b597"/>
<rect x="143" y="446" width="8" height="8" fill="#d2b497"/>
<rect x="151" y="446" width="8" height="8" fill="#d2b497"/>
<rect x="-1" y="454" width="8" height="8" fill="#dcbf9e"/>
<rect x="7" y="454" width="8" height="8" fill="#dbbe9e"/>
<rect x="15" y="454" width="8" height="8" fill="#dabe9d"/>
<rect x="23" y="454" width="8" height="8" fill="#dabd9d"/>
<rect x="31" y="454" width="8" height="8" fill="#d9bd9c"/>
<rect x="39" y="454" width="8" height="8" fill="#d8bc9c"/>
<rect x="47" y="454" width="8" height="8" fill="#d8bc9b"/>
<rect x="55" y="454" width="8" height="8" fill="#d7bb9b"/>
<rect x="63" y="454" width="8" height="8" fill="#d7bb9a"/>
<rect x="71" y="454" width="8" height="8" fill="#d6ba9a"/>
<rect x="79" y="454" width="8" height="8" fill="#d6ba9a"/>
<rect x="87" y="454" width="8" height="8" fill="#d6ba9a"/>
<rect x="95" y="454" width="8" height="8" fill="#d5b99a"/>
<rect x="103" y="454" width="8" height="8" fill="#d5b99a"/>
<rect x="111" y="454" width="8" height="8" fill="#d5b89a"/>
<rect x="119" y="454" width="8" height="8" fill="#d5b89a"/>
<rect x="127" y="454" width="8" height="8" fill="#d5b79a"/>
<rect x="135" y="454" width="8" height="8" fill="#d4b79a"/>
<rect x="143" y="454" width="8" height="8" fill="#d4b79a"/>
<rect x="151" y="454" width="8" height="8" fill="#d4b79a"/>
<rect x="-1" y="462" width="8" height="8" fill="#dec1a1"/>
<rect x="7" y="462" width="8" height="8" fill="#dec1a0"/>
<rect x="15" y="462" width="8" height="8" fill="#ddc0a0"/>
<rect x="23" y="462" width="8" height="8" fill="#ddc0a0"/>
<rect x="31" y="462" width="8" height="8" fill="#dcc09f"/>
<rect x="39" y="462" width="8" height="8" fill="#dcbf9f"/>
<rect x="47" y="462" width="8" height="8" fill="#dbbf9e"/>
<rect x="55" y="462" width="8" height="8" fill="#dbbe9e"/>
<rect x="63" y="462" width="8" height="8" fill="#dabe9e"/>
<rect x="71" y="462" width="8" height="8" fill="#dabe9d"/>
<rect x="79" y="462" width="8" height="8" fill="#dabd9d"/>
<rect x="87" y="462" width="8" height="8" fill="#d9bd9d"/>
<rect x="95" y="462" width="8" height="8" fill="#d9bc9d"/>
<rect x="103" y="462" width="8" height="8" fill="#d9bc9d"/>
<rect x="111" y="462" width="8" height="8" fill="#d8bb9d"/>
<rect x="119" y="462" width="8" height="8" fill="#d8bb9d"/>
<rect x="127" y="462" width="8" height="8" fill="#d8ba9d"/>
<rect x="135" y="462" width="8" height="8" fill="#d7ba9d"/>
<rect x="143" y="462" width="8" height="8" fill="#d7b99d"/>
<rect x="151" y="462" width="8" height="8" fill="#d7b99d"/>
<rect x="-1" y="470" width="8" height="8" fill="#e1c3a3"/>
<rect x="7" y="470" width="8" height="8" fill="#e1c3a3"/>
<rect x="15" y="470" width="8" height="8" fill="#e1c3a3"/>
<rect x="23" y="470" width="8" height="8" fill="#e0c3a3"/>
<rect x="31" y="470" width="8" height="8" fill="#e0c3a2"/>
<rect x="39" y="470" width="8" height="8" fill="#dfc2a2"/>
<rect x="47" y="470" width="8" height="8" fill="#dfc2a2"/>
<rect x="55" y="470" width="8" height="8" fill="#dfc2a2"/>
<rect x="63" y="470" width="8" height="8" fill="#dec1a1"/>
<rect x="71" y="470" width="8" height="8" fill="#dec1a1"/>
<rect x="79" y="470" width="8" height="8" fill="#ddc0a1"/>
<rect x="87" y="470" width="8" height="8" fill="#ddc0a1"/>
<rect x="95" y="470" width="8" height="8" fill="#ddbfa1"/>
<rect x="103" y="470" width="8" height="8" fill="#dcbfa0"/>
<rect x="111" y="470" width="8" height="8" fill="#dcbea0"/>
<rect x="119" y="470" width="8" height="8" fill="#dcbea0"/>
<rect x="127" y="470" width="8" height="8" fill="#dbbda0"/>
<rect x="135" y="470" width="8" height="8" fill="#dbbca0"/>
<rect x="143" y="470" width="8" height="8" fill="#dabca0"/>
<rect x="151" y="470" width="8" height="8" fill="#dabca0"/>
<rect x="-1" y="478" width="8" height="8" fill="#e1c3a3"/>
<rect x="7" y="478" width="8" height="8" fill="#e1c3a3"/>
<rect x="15" y="478" width="8" height="8" fill="#e1c3a3"/>
<rect x="23" y="478" width="8" height="8" fill="#e0c3a3"/>
<rect x="31" y="478" width="8" height="8" fill="#e0c3a2"/>
<rect x="39" y="478" width="8" height="8" fill="#dfc2a2"/>
<rect x="47" y="478" width="8" height="8" fill="#dfc2a2"/>
<rect x="55" y="478" width="8" height="8" fill="#dfc2a2"/>
<rect x="63" y="478" width="8" height="8" fill="#dec1a1"/>
<rect x="71" y="478" width="8" height="8" fill="#dec1a1"/>
<rect x="79" y="478" width="8" height="8" fill="#ddc0a1"/>
<rect x="87" y="478" width="8" height="8" fill="#ddc0a1"/>
<rect x="95" y="478" width="8" height="8" fill="#ddbfa1"/>
<rect x="103" y="478" width="8" height="8" fill="#dcbfa0"/>
<rect x="111" y="478" width="8" height="8" fill="#dcbea0"/>
<rect x="119" y="478" width="8" height="8" fill="#dcbea0"/>
<rect x="127" y="478" width="8" height="8" fill="#dbbda0"/>
<rect x="135" y="478" width="8" height="8" fill="#dbbca0"/>
<rect x="143" y="478" width="8" height="8" fill="#dabca0"/>
<rect x="151" y="478" width="8" height="8" fill="#dabca0"/>
</g></g>
<g filter="url(#soft)">
<ellipse cx="28.7" cy="337.30" rx="5.6" ry="5.5" fill="rgb(128, 84, 66)"/>
<ellipse cx="27.25" cy="340.15" rx="2.12" ry="2.08" fill="rgb(128, 84, 66)"/>
<ellipse cx="32.01" cy="338.89" rx="1.93" ry="1.89" fill="rgb(128, 84, 66)"/>
<ellipse cx="32.11" cy="338.58" rx="1.71" ry="1.67" fill="rgb(128, 84, 66)"/>
<ellipse cx="57" cy="333.80" rx="10" ry="8.4" fill="rgb(131, 87, 69)"/>
<ellipse cx="66" cy="338.60" rx="6.5" ry="6" fill="rgb(131, 87, 69)"/>
<ellipse cx="51.84" cy="335.72" rx="3.11" ry="2.61" fill="rgb(131, 87, 69)"/>
<ellipse cx="50.64" cy="336.54" rx="3.15" ry="2.64" fill="rgb(131, 87, 69)"/>
<ellipse cx="58.13" cy="339.39" rx="4.14" ry="3.48" fill="rgb(131, 87, 69)"/>
<ellipse cx="51.43" cy="331.34" rx="4.17" ry="3.50" fill="rgb(131, 87, 69)"/>
<ellipse cx="63.91" cy="335.55" rx="3.35" ry="2.81" fill="rgb(131, 87, 69)"/>
<ellipse cx="68.30" cy="341.31" rx="2.19" ry="2.02" fill="rgb(131, 87, 69)"/>
<ellipse cx="67.54" cy="335.38" rx="2.40" ry="2.22" fill="rgb(131, 87, 69)"/>
<ellipse cx="63.39" cy="335.73" rx="2.38" ry="2.19" fill="rgb(131, 87, 69)"/>
<ellipse cx="69.37" cy="339.90" rx="2.11" ry="1.95" fill="rgb(131, 87, 69)"/>
<ellipse cx="64.25" cy="335.15" rx="2.20" ry="2.03" fill="rgb(131, 87, 69)"/>
<ellipse cx="88.7" cy="335.30" rx="4" ry="6" fill="rgb(123, 63, 54)"/>
<ellipse cx="86.50" cy="333.33" rx="1.34" ry="2.02" fill="rgb(123, 63, 54)"/>
<ellipse cx="89.46" cy="331.32" rx="1.32" ry="1.98" fill="rgb(123, 63, 54)"/>
<ellipse cx="86.36" cy="333.53" rx="1.62" ry="2.43" fill="rgb(123, 63, 54)"/>
<ellipse cx="95.6" cy="336.20" rx="4.2" ry="4.7" fill="rgb(92, 79, 72)"/>
<ellipse cx="95.27" cy="333.37" rx="1.75" ry="1.96" fill="rgb(92, 79, 72)"/>
<ellipse cx="97.56" cy="338.21" rx="1.64" ry="1.84" fill="rgb(92, 79, 72)"/>
<ellipse cx="97.17" cy="338.69" rx="1.28" ry="1.43" fill="rgb(92, 79, 72)"/>
<ellipse cx="117.2" cy="335.80" rx="6.9" ry="5.5" fill="rgb(122, 97, 73)"/>
<ellipse cx="114.82" cy="332.43" rx="2.54" ry="2.03" fill="rgb(122, 97, 73)"/>
<ellipse cx="120.20" cy="333.42" rx="2.65" ry="2.11" fill="rgb(122, 97, 73)"/>
<ellipse cx="113.39" cy="333.75" rx="2.45" ry="1.95" fill="rgb(122, 97, 73)"/>
<ellipse cx="119.93" cy="332.37" rx="2.46" ry="1.96" fill="rgb(122, 97, 73)"/>
<ellipse cx="115.21" cy="333.15" rx="2.65" ry="2.11" fill="rgb(122, 97, 73)"/>
<ellipse cx="60.1" cy="365.60" rx="4.3" ry="3.5" fill="rgb(133, 92, 68)"/>
<ellipse cx="58.16" cy="363.51" rx="1.71" ry="1.40" fill="rgb(133, 92, 68)"/>
<ellipse cx="59.52" cy="367.74" rx="1.64" ry="1.33" fill="rgb(133, 92, 68)"/>
<ellipse cx="62.83" cy="365.92" rx="1.38" ry="1.12" fill="rgb(133, 92, 68)"/>
<ellipse cx="140.2" cy="364.40" rx="3.3" ry="2.2" fill="rgb(133, 92, 70)"/>
<ellipse cx="141.57" cy="365.23" rx="1.29" ry="0.86" fill="rgb(133, 92, 70)"/>
<ellipse cx="141.56" cy="365.36" rx="1.14" ry="0.76" fill="rgb(133, 92, 70)"/>
<ellipse cx="141.49" cy="363.50" rx="1.17" ry="0.78" fill="rgb(133, 92, 70)"/>
<ellipse cx="28.2" cy="393.80" rx="8" ry="6.2" fill="rgb(118, 77, 63)"/>
<ellipse cx="22.66" cy="392.42" rx="3.19" ry="2.47" fill="rgb(118, 77, 63)"/>
<ellipse cx="31.38" cy="390.97" rx="2.80" ry="2.17" fill="rgb(118, 77, 63)"/>
<ellipse cx="24.53" cy="397.29" rx="3.32" ry="2.57" fill="rgb(118, 77, 63)"/>
<ellipse cx="30.93" cy="396.75" rx="2.62" ry="2.03" fill="rgb(118, 77, 63)"/>
<ellipse cx="28.74" cy="397.79" rx="2.97" ry="2.30" fill="rgb(118, 77, 63)"/>
<ellipse cx="61.9" cy="393.10" rx="6.7" ry="5.5" fill="rgb(108, 63, 51)"/>
<ellipse cx="61.60" cy="396.12" rx="2.35" ry="1.93" fill="rgb(108, 63, 51)"/>
<ellipse cx="58.87" cy="395.77" rx="2.78" ry="2.28" fill="rgb(108, 63, 51)"/>
<ellipse cx="60.30" cy="389.76" rx="2.51" ry="2.06" fill="rgb(108, 63, 51)"/>
<ellipse cx="60.22" cy="390.34" rx="2.73" ry="2.24" fill="rgb(108, 63, 51)"/>
<ellipse cx="62.81" cy="389.18" rx="2.65" ry="2.18" fill="rgb(108, 63, 51)"/>
<ellipse cx="92.4" cy="393.10" rx="5.1" ry="4.8" fill="rgb(111, 66, 54)"/>
<ellipse cx="89.89" cy="394.99" rx="1.59" ry="1.50" fill="rgb(111, 66, 54)"/>
<ellipse cx="90.49" cy="391.08" rx="1.57" ry="1.48" fill="rgb(111, 66, 54)"/>
<ellipse cx="93.16" cy="395.80" rx="1.74" ry="1.64" fill="rgb(111, 66, 54)"/>
<ellipse cx="119.5" cy="390.60" rx="6.5" ry="5.8" fill="rgb(131, 90, 73)"/>
<ellipse cx="124" cy="394.60" rx="3.7" ry="3.3" fill="rgb(131, 90, 73)"/>
<ellipse cx="122.88" cy="391.63" rx="2.07" ry="1.85" fill="rgb(131, 90, 73)"/>
<ellipse cx="122.75" cy="392.75" rx="1.97" ry="1.76" fill="rgb(131, 90, 73)"/>
<ellipse cx="122.58" cy="387.83" rx="2.07" ry="1.84" fill="rgb(131, 90, 73)"/>
<ellipse cx="119.44" cy="394.19" rx="2.23" ry="1.99" fill="rgb(131, 90, 73)"/>
<ellipse cx="122.85" cy="393.51" rx="2.72" ry="2.43" fill="rgb(131, 90, 73)"/>
<ellipse cx="121.66" cy="395.05" rx="1.15" ry="1.02" fill="rgb(131, 90, 73)"/>
<ellipse cx="125.83" cy="395.82" rx="1.23" ry="1.09" fill="rgb(131, 90, 73)"/>
<ellipse cx="125.02" cy="392.91" rx="1.12" ry="1.00" fill="rgb(131, 90, 73)"/>
<ellipse cx="28.5" cy="425.20" rx="10" ry="8.9" fill="rgb(123, 79, 63)"/>
<ellipse cx="34.75" cy="423.43" rx="3.18" ry="2.83" fill="rgb(123, 79, 63)"/>
<ellipse cx="23.15" cy="423.88" rx="3.63" ry="3.23" fill="rgb(123, 79, 63)"/>
<ellipse cx="35.66" cy="424.33" rx="3.84" ry="3.41" fill="rgb(123, 79, 63)"/>
<ellipse cx="28.07" cy="430.73" rx="3.20" ry="2.85" fill="rgb(123, 79, 63)"/>
<ellipse cx="29.40" cy="419.41" rx="3.93" ry="3.50" fill="rgb(123, 79, 63)"/>
<ellipse cx="59.5" cy="420.30" rx="4.3" ry="4.3" fill="rgb(138, 97, 80)"/>
<ellipse cx="64.3" cy="427.30" rx="3.9" ry="6" fill="rgb(138, 97, 80)"/>
<ellipse cx="58.27" cy="422.54" rx="1.71" ry="1.71" fill="rgb(138, 97, 80)"/>
<ellipse cx="62.58" cy="420.01" rx="1.71" ry="1.71" fill="rgb(138, 97, 80)"/>
<ellipse cx="60.75" cy="417.57" rx="1.41" ry="1.41" fill="rgb(138, 97, 80)"/>
<ellipse cx="61.89" cy="426.89" rx="1.18" ry="1.82" fill="rgb(138, 97, 80)"/>
<ellipse cx="66.63" cy="427.93" rx="1.29" ry="1.99" fill="rgb(138, 97, 80)"/>
<ellipse cx="63.28" cy="423.14" rx="1.38" ry="2.12" fill="rgb(138, 97, 80)"/>
<ellipse cx="97" cy="418.10" rx="4.7" ry="4.7" fill="rgb(135, 92, 75)"/>
<ellipse cx="97.4" cy="428.10" rx="7.6" ry="6.1" fill="rgb(135, 92, 75)"/>
<ellipse cx="100.24" cy="416.75" rx="1.95" ry="1.95" fill="rgb(135, 92, 75)"/>
<ellipse cx="95.16" cy="420.20" rx="1.54" ry="1.54" fill="rgb(135, 92, 75)"/>
<ellipse cx="97.91" cy="420.72" rx="1.76" ry="1.76" fill="rgb(135, 92, 75)"/>
<ellipse cx="101.82" cy="425.53" rx="2.72" ry="2.18" fill="rgb(135, 92, 75)"/>
<ellipse cx="94.31" cy="424.55" rx="2.36" ry="1.89" fill="rgb(135, 92, 75)"/>
<ellipse cx="94.44" cy="424.32" rx="2.99" ry="2.40" fill="rgb(135, 92, 75)"/>
<ellipse cx="97.40" cy="424.16" rx="2.44" ry="1.96" fill="rgb(135, 92, 75)"/>
<ellipse cx="98.54" cy="424.45" rx="3.01" ry="2.42" fill="rgb(135, 92, 75)"/>
<ellipse cx="125.2" cy="417.60" rx="6" ry="5.2" fill="rgb(135, 92, 75)"/>
<ellipse cx="128.4" cy="428.10" rx="7.4" ry="7.8" fill="rgb(135, 92, 75)"/>
<ellipse cx="128.92" cy="417.02" rx="2.09" ry="1.81" fill="rgb(135, 92, 75)"/>
<ellipse cx="129.14" cy="416.41" rx="1.92" ry="1.67" fill="rgb(135, 92, 75)"/>
<ellipse cx="127.63" cy="419.76" rx="2.45" ry="2.12" fill="rgb(135, 92, 75)"/>
<ellipse cx="129.89" cy="423.86" rx="2.95" ry="3.11" fill="rgb(135, 92, 75)"/>
<ellipse cx="133.40" cy="427.44" rx="2.53" ry="2.67" fill="rgb(135, 92, 75)"/>
<ellipse cx="124.33" cy="426.75" rx="2.23" ry="2.35" fill="rgb(135, 92, 75)"/>
<ellipse cx="133.35" cy="427.14" rx="2.69" ry="2.83" fill="rgb(135, 92, 75)"/>
<ellipse cx="132.71" cy="426.09" rx="2.99" ry="3.16" fill="rgb(135, 92, 75)"/>
<ellipse cx="28" cy="458.80" rx="10.4" ry="10.4" fill="rgb(136, 95, 77)"/>
<ellipse cx="30.84" cy="453.33" rx="3.43" ry="3.43" fill="rgb(136, 95, 77)"/>
<ellipse cx="26.34" cy="464.80" rx="3.85" ry="3.85" fill="rgb(136, 95, 77)"/>
<ellipse cx="27.61" cy="465.38" rx="3.28" ry="3.28" fill="rgb(136, 95, 77)"/>
<ellipse cx="33.45" cy="455.34" rx="3.69" ry="3.69" fill="rgb(136, 95, 77)"/>
<ellipse cx="21.42" cy="455.00" rx="3.64" ry="3.64" fill="rgb(136, 95, 77)"/>
<ellipse cx="66.1" cy="456.30" rx="4.3" ry="4.8" fill="rgb(138, 97, 79)"/>
<ellipse cx="68.53" cy="454.76" rx="1.56" ry="1.75" fill="rgb(138, 97, 79)"/>
<ellipse cx="63.74" cy="455.91" rx="1.52" ry="1.69" fill="rgb(138, 97, 79)"/>
<ellipse cx="67.07" cy="458.71" rx="1.70" ry="1.90" fill="rgb(138, 97, 79)"/>
<ellipse cx="94.5" cy="454.80" rx="5.0" ry="4.6" fill="rgb(136, 95, 77)"/>
<ellipse cx="100.5" cy="456.90" rx="5.2" ry="4.8" fill="rgb(136, 95, 77)"/>
<ellipse cx="96.01" cy="457.42" rx="1.94" ry="1.78" fill="rgb(136, 95, 77)"/>
<ellipse cx="91.62" cy="453.82" rx="1.81" ry="1.67" fill="rgb(136, 95, 77)"/>
<ellipse cx="91.18" cy="453.69" rx="1.56" ry="1.44" fill="rgb(136, 95, 77)"/>
<ellipse cx="97.60" cy="455.84" rx="1.73" ry="1.60" fill="rgb(136, 95, 77)"/>
<ellipse cx="100.97" cy="453.80" rx="1.91" ry="1.76" fill="rgb(136, 95, 77)"/>
<ellipse cx="100.74" cy="453.39" rx="1.84" ry="1.70" fill="rgb(136, 95, 77)"/>
<ellipse cx="130.9" cy="456.00" rx="6.4" ry="7.1" fill="rgb(133, 86, 72)"/>
<ellipse cx="127.73" cy="453.00" rx="2.31" ry="2.57" fill="rgb(133, 86, 72)"/>
<ellipse cx="129.46" cy="451.74" rx="2.33" ry="2.58" fill="rgb(133, 86, 72)"/>
<ellipse cx="126.22" cy="456.72" rx="2.46" ry="2.73" fill="rgb(133, 86, 72)"/>
<ellipse cx="134.27" cy="452.33" rx="2.12" ry="2.35" fill="rgb(133, 86, 72)"/>
<ellipse cx="126.50" cy="454.08" rx="2.57" ry="2.85" fill="rgb(133, 86, 72)"/>
<ellipse cx="28.7" cy="336.30" rx="5.21" ry="4.95" fill="rgb(178, 118, 92)"/>
<ellipse cx="27.25" cy="339.15" rx="1.91" ry="1.87" fill="rgb(178, 118, 92)"/>
<ellipse cx="32.01" cy="337.89" rx="1.73" ry="1.70" fill="rgb(178, 118, 92)"/>
<ellipse cx="32.11" cy="337.58" rx="1.53" ry="1.51" fill="rgb(178, 118, 92)"/>
<ellipse cx="57" cy="332.80" rx="9.30" ry="7.56" fill="rgb(182, 122, 96)"/>
<ellipse cx="66" cy="337.60" rx="6.04" ry="5.40" fill="rgb(182, 122, 96)"/>
<ellipse cx="51.84" cy="334.72" rx="2.80" ry="2.35" fill="rgb(182, 122, 96)"/>
<ellipse cx="50.64" cy="335.54" rx="2.83" ry="2.38" fill="rgb(182, 122, 96)"/>
<ellipse cx="58.13" cy="338.39" rx="3.72" ry="3.13" fill="rgb(182, 122, 96)"/>
<ellipse cx="51.43" cy="330.34" rx="3.75" ry="3.15" fill="rgb(182, 122, 96)"/>
<ellipse cx="63.91" cy="334.55" rx="3.01" ry="2.53" fill="rgb(182, 122, 96)"/>
<ellipse cx="68.30" cy="340.31" rx="1.97" ry="1.82" fill="rgb(182, 122, 96)"/>
<ellipse cx="67.54" cy="334.38" rx="2.16" ry="2.00" fill="rgb(182, 122, 96)"/>
<ellipse cx="63.39" cy="334.73" rx="2.14" ry="1.97" fill="rgb(182, 122, 96)"/>
<ellipse cx="69.37" cy="338.90" rx="1.90" ry="1.75" fill="rgb(182, 122, 96)"/>
<ellipse cx="64.25" cy="334.15" rx="1.98" ry="1.82" fill="rgb(182, 122, 96)"/>
<ellipse cx="88.7" cy="334.30" rx="3.72" ry="5.40" fill="rgb(172, 88, 76)"/>
<ellipse cx="86.50" cy="332.33" rx="1.21" ry="1.81" fill="rgb(172, 88, 76)"/>
<ellipse cx="89.46" cy="330.32" rx="1.19" ry="1.78" fill="rgb(172, 88, 76)"/>
<ellipse cx="86.36" cy="332.53" rx="1.46" ry="2.19" fill="rgb(172, 88, 76)"/>
<ellipse cx="95.6" cy="335.20" rx="3.91" ry="4.23" fill="rgb(128, 110, 100)"/>
<ellipse cx="95.27" cy="332.37" rx="1.58" ry="1.77" fill="rgb(128, 110, 100)"/>
<ellipse cx="97.56" cy="337.21" rx="1.48" ry="1.65" fill="rgb(128, 110, 100)"/>
<ellipse cx="97.17" cy="337.69" rx="1.15" ry="1.29" fill="rgb(128, 110, 100)"/>
<ellipse cx="117.2" cy="334.80" rx="6.42" ry="4.95" fill="rgb(170, 135, 102)"/>
<ellipse cx="114.82" cy="331.43" rx="2.29" ry="1.83" fill="rgb(170, 135, 102)"/>
<ellipse cx="120.20" cy="332.42" rx="2.38" ry="1.90" fill="rgb(170, 135, 102)"/>
<ellipse cx="113.39" cy="332.75" rx="2.20" ry="1.76" fill="rgb(170, 135, 102)"/>
<ellipse cx="119.93" cy="331.37" rx="2.22" ry="1.77" fill="rgb(170, 135, 102)"/>
<ellipse cx="115.21" cy="332.15" rx="2.39" ry="1.90" fill="rgb(170, 135, 102)"/>
<ellipse cx="60.1" cy="364.60" rx="4.00" ry="3.15" fill="rgb(185, 128, 95)"/>
<ellipse cx="58.16" cy="362.51" rx="1.54" ry="1.26" fill="rgb(185, 128, 95)"/>
<ellipse cx="59.52" cy="366.74" rx="1.47" ry="1.20" fill="rgb(185, 128, 95)"/>
<ellipse cx="62.83" cy="364.92" rx="1.24" ry="1.01" fill="rgb(185, 128, 95)"/>
<ellipse cx="140.2" cy="363.40" rx="3.07" ry="1.98" fill="rgb(185, 128, 98)"/>
<ellipse cx="141.57" cy="364.23" rx="1.16" ry="0.78" fill="rgb(185, 128, 98)"/>
<ellipse cx="141.56" cy="364.36" rx="1.03" ry="0.69" fill="rgb(185, 128, 98)"/>
<ellipse cx="141.49" cy="362.50" rx="1.05" ry="0.70" fill="rgb(185, 128, 98)"/>
<ellipse cx="28.2" cy="392.80" rx="7.44" ry="5.58" fill="rgb(165, 108, 88)"/>
<ellipse cx="22.66" cy="391.42" rx="2.87" ry="2.22" fill="rgb(165, 108, 88)"/>
<ellipse cx="31.38" cy="389.97" rx="2.52" ry="1.95" fill="rgb(165, 108, 88)"/>
<ellipse cx="24.53" cy="396.29" rx="2.99" ry="2.32" fill="rgb(165, 108, 88)"/>
<ellipse cx="30.93" cy="395.75" rx="2.36" ry="1.83" fill="rgb(165, 108, 88)"/>
<ellipse cx="28.74" cy="396.79" rx="2.67" ry="2.07" fill="rgb(165, 108, 88)"/>
<ellipse cx="61.9" cy="392.10" rx="6.23" ry="4.95" fill="rgb(150, 88, 72)"/>
<ellipse cx="61.60" cy="395.12" rx="2.11" ry="1.73" fill="rgb(150, 88, 72)"/>
<ellipse cx="58.87" cy="394.77" rx="2.50" ry="2.05" fill="rgb(150, 88, 72)"/>
<ellipse cx="60.30" cy="388.76" rx="2.26" ry="1.85" fill="rgb(150, 88, 72)"/>
<ellipse cx="60.22" cy="389.34" rx="2.46" ry="2.02" fill="rgb(150, 88, 72)"/>
<ellipse cx="62.81" cy="388.18" rx="2.39" ry="1.96" fill="rgb(150, 88, 72)"/>
<ellipse cx="92.4" cy="392.10" rx="4.74" ry="4.32" fill="rgb(155, 92, 75)"/>
<ellipse cx="89.89" cy="393.99" rx="1.43" ry="1.35" fill="rgb(155, 92, 75)"/>
<ellipse cx="90.49" cy="390.08" rx="1.41" ry="1.33" fill="rgb(155, 92, 75)"/>
<ellipse cx="93.16" cy="394.80" rx="1.56" ry="1.47" fill="rgb(155, 92, 75)"/>
<ellipse cx="119.5" cy="389.60" rx="6.04" ry="5.22" fill="rgb(182, 125, 102)"/>
<ellipse cx="124" cy="393.60" rx="3.44" ry="2.97" fill="rgb(182, 125, 102)"/>
<ellipse cx="122.88" cy="390.63" rx="1.86" ry="1.66" fill="rgb(182, 125, 102)"/>
<ellipse cx="122.75" cy="391.75" rx="1.77" ry="1.58" fill="rgb(182, 125, 102)"/>
<ellipse cx="122.58" cy="386.83" rx="1.86" ry="1.66" fill="rgb(182, 125, 102)"/>
<ellipse cx="119.44" cy="393.19" rx="2.01" ry="1.79" fill="rgb(182, 125, 102)"/>
<ellipse cx="122.85" cy="392.51" rx="2.45" ry="2.19" fill="rgb(182, 125, 102)"/>
<ellipse cx="121.66" cy="394.05" rx="1.03" ry="0.92" fill="rgb(182, 125, 102)"/>
<ellipse cx="125.83" cy="394.82" rx="1.10" ry="0.99" fill="rgb(182, 125, 102)"/>
<ellipse cx="125.02" cy="391.91" rx="1.01" ry="0.90" fill="rgb(182, 125, 102)"/>
<ellipse cx="28.5" cy="424.20" rx="9.30" ry="8.01" fill="rgb(172, 110, 88)"/>
<ellipse cx="34.75" cy="422.43" rx="2.86" ry="2.54" fill="rgb(172, 110, 88)"/>
<ellipse cx="23.15" cy="422.88" rx="3.27" ry="2.91" fill="rgb(172, 110, 88)"/>
<ellipse cx="35.66" cy="423.33" rx="3.45" ry="3.07" fill="rgb(172, 110, 88)"/>
<ellipse cx="28.07" cy="429.73" rx="2.88" ry="2.56" fill="rgb(172, 110, 88)"/>
<ellipse cx="29.40" cy="418.41" rx="3.54" ry="3.15" fill="rgb(172, 110, 88)"/>
<ellipse cx="59.5" cy="419.30" rx="4.00" ry="3.87" fill="rgb(192, 135, 112)"/>
<ellipse cx="64.3" cy="426.30" rx="3.63" ry="5.40" fill="rgb(192, 135, 112)"/>
<ellipse cx="58.27" cy="421.54" rx="1.54" ry="1.54" fill="rgb(192, 135, 112)"/>
<ellipse cx="62.58" cy="419.01" rx="1.54" ry="1.54" fill="rgb(192, 135, 112)"/>
<ellipse cx="60.75" cy="416.57" rx="1.27" ry="1.27" fill="rgb(192, 135, 112)"/>
<ellipse cx="61.89" cy="425.89" rx="1.07" ry="1.64" fill="rgb(192, 135, 112)"/>
<ellipse cx="66.63" cy="426.93" rx="1.16" ry="1.79" fill="rgb(192, 135, 112)"/>
<ellipse cx="63.28" cy="422.14" rx="1.24" ry="1.91" fill="rgb(192, 135, 112)"/>
<ellipse cx="97" cy="417.10" rx="4.37" ry="4.23" fill="rgb(188, 128, 105)"/>
<ellipse cx="97.4" cy="427.10" rx="7.07" ry="5.49" fill="rgb(188, 128, 105)"/>
<ellipse cx="100.24" cy="415.75" rx="1.75" ry="1.75" fill="rgb(188, 128, 105)"/>
<ellipse cx="95.16" cy="419.20" rx="1.38" ry="1.38" fill="rgb(188, 128, 105)"/>
<ellipse cx="97.91" cy="419.72" rx="1.59" ry="1.59" fill="rgb(188, 128, 105)"/>
<ellipse cx="101.82" cy="424.53" rx="2.45" ry="1.96" fill="rgb(188, 128, 105)"/>
<ellipse cx="94.31" cy="423.55" rx="2.12" ry="1.70" fill="rgb(188, 128, 105)"/>
<ellipse cx="94.44" cy="423.32" rx="2.69" ry="2.16" fill="rgb(188, 128, 105)"/>
<ellipse cx="97.40" cy="423.16" rx="2.20" ry="1.76" fill="rgb(188, 128, 105)"/>
<ellipse cx="98.54" cy="423.45" rx="2.71" ry="2.17" fill="rgb(188, 128, 105)"/>
<ellipse cx="125.2" cy="416.60" rx="5.58" ry="4.68" fill="rgb(188, 128, 105)"/>
<ellipse cx="128.4" cy="427.10" rx="6.88" ry="7.02" fill="rgb(188, 128, 105)"/>
<ellipse cx="128.92" cy="416.02" rx="1.88" ry="1.63" fill="rgb(188, 128, 105)"/>
<ellipse cx="129.14" cy="415.41" rx="1.73" ry="1.50" fill="rgb(188, 128, 105)"/>
<ellipse cx="127.63" cy="418.76" rx="2.21" ry="1.91" fill="rgb(188, 128, 105)"/>
<ellipse cx="129.89" cy="422.86" rx="2.66" ry="2.80" fill="rgb(188, 128, 105)"/>
<ellipse cx="133.40" cy="426.44" rx="2.28" ry="2.40" fill="rgb(188, 128, 105)"/>
<ellipse cx="124.33" cy="425.75" rx="2.01" ry="2.12" fill="rgb(188, 128, 105)"/>
<ellipse cx="133.35" cy="426.14" rx="2.42" ry="2.55" fill="rgb(188, 128, 105)"/>
<ellipse cx="132.71" cy="425.09" rx="2.69" ry="2.84" fill="rgb(188, 128, 105)"/>
<ellipse cx="28" cy="457.80" rx="9.67" ry="9.36" fill="rgb(190, 132, 108)"/>
<ellipse cx="30.84" cy="452.33" rx="3.09" ry="3.09" fill="rgb(190, 132, 108)"/>
<ellipse cx="26.34" cy="463.80" rx="3.47" ry="3.47" fill="rgb(190, 132, 108)"/>
<ellipse cx="27.61" cy="464.38" rx="2.96" ry="2.96" fill="rgb(190, 132, 108)"/>
<ellipse cx="33.45" cy="454.34" rx="3.32" ry="3.32" fill="rgb(190, 132, 108)"/>
<ellipse cx="21.42" cy="454.00" rx="3.28" ry="3.28" fill="rgb(190, 132, 108)"/>
<ellipse cx="66.1" cy="455.30" rx="4.00" ry="4.32" fill="rgb(192, 135, 110)"/>
<ellipse cx="68.53" cy="453.76" rx="1.41" ry="1.57" fill="rgb(192, 135, 110)"/>
<ellipse cx="63.74" cy="454.91" rx="1.37" ry="1.52" fill="rgb(192, 135, 110)"/>
<ellipse cx="67.07" cy="457.71" rx="1.53" ry="1.71" fill="rgb(192, 135, 110)"/>
<ellipse cx="94.5" cy="453.80" rx="4.65" ry="4.14" fill="rgb(190, 132, 108)"/>
<ellipse cx="100.5" cy="455.90" rx="4.84" ry="4.32" fill="rgb(190, 132, 108)"/>
<ellipse cx="96.01" cy="456.42" rx="1.74" ry="1.60" fill="rgb(190, 132, 108)"/>
<ellipse cx="91.62" cy="452.82" rx="1.63" ry="1.50" fill="rgb(190, 132, 108)"/>
<ellipse cx="91.18" cy="452.69" rx="1.41" ry="1.29" fill="rgb(190, 132, 108)"/>
<ellipse cx="97.60" cy="454.84" rx="1.56" ry="1.44" fill="rgb(190, 132, 108)"/>
<ellipse cx="100.97" cy="452.80" rx="1.72" ry="1.59" fill="rgb(190, 132, 108)"/>
<ellipse cx="100.74" cy="452.39" rx="1.65" ry="1.53" fill="rgb(190, 132, 108)"/>
<ellipse cx="130.9" cy="455.00" rx="5.95" ry="6.39" fill="rgb(185, 120, 100)"/>
<ellipse cx="127.73" cy="452.00" rx="2.08" ry="2.31" fill="rgb(185, 120, 100)"/>
<ellipse cx="129.46" cy="450.74" rx="2.10" ry="2.33" fill="rgb(185, 120, 100)"/>
<ellipse cx="126.22" cy="455.72" rx="2.21" ry="2.45" fill="rgb(185, 120, 100)"/>
<ellipse cx="134.27" cy="451.33" rx="1.91" ry="2.12" fill="rgb(185, 120, 100)"/>
<ellipse cx="126.50" cy="453.08" rx="2.31" ry="2.56" fill="rgb(185, 120, 100)"/>
</g>
<g filter="url(#soft2)" opacity="0.85">
<ellipse cx="28.14" cy="335.60" rx="2.80" ry="2.48" fill="rgb(200, 150, 125)"/>
<ellipse cx="56.00" cy="331.52" rx="5.00" ry="3.78" fill="rgb(208, 158, 132)"/>
<ellipse cx="65.35" cy="336.80" rx="3.25" ry="2.70" fill="rgb(208, 158, 132)"/>
<ellipse cx="88.30" cy="333.50" rx="2.00" ry="2.70" fill="rgb(195, 120, 105)"/>
<ellipse cx="95.18" cy="334.66" rx="2.10" ry="2.12" fill="rgb(160, 140, 128)"/>
<ellipse cx="116.51" cy="334.10" rx="3.45" ry="2.48" fill="rgb(200, 170, 135)"/>
<ellipse cx="59.67" cy="364.30" rx="2.15" ry="1.57" fill="rgb(205, 158, 125)"/>
<ellipse cx="139.87" cy="363.36" rx="1.65" ry="0.99" fill="rgb(205, 155, 125)"/>
<ellipse cx="27.40" cy="391.96" rx="4.00" ry="2.79" fill="rgb(195, 145, 122)"/>
<ellipse cx="61.23" cy="391.40" rx="3.35" ry="2.48" fill="rgb(180, 122, 105)"/>
<ellipse cx="91.89" cy="391.54" rx="2.55" ry="2.16" fill="rgb(185, 128, 110)"/>
<ellipse cx="118.85" cy="388.84" rx="3.25" ry="2.61" fill="rgb(210, 165, 140)"/>
<ellipse cx="123.63" cy="393.34" rx="1.85" ry="1.48" fill="rgb(210, 165, 140)"/>
<ellipse cx="27.50" cy="422.82" rx="5.00" ry="4.00" fill="rgb(200, 148, 125)"/>
<ellipse cx="59.07" cy="418.84" rx="2.15" ry="1.94" fill="rgb(215, 170, 148)"/>
<ellipse cx="63.91" cy="425.50" rx="1.95" ry="2.70" fill="rgb(215, 170, 148)"/>
<ellipse cx="96.53" cy="416.56" rx="2.35" ry="2.12" fill="rgb(213, 165, 142)"/>
<ellipse cx="96.64" cy="426.28" rx="3.80" ry="2.75" fill="rgb(213, 165, 142)"/>
<ellipse cx="124.60" cy="415.96" rx="3.00" ry="2.34" fill="rgb(213, 165, 142)"/>
<ellipse cx="127.66" cy="425.94" rx="3.70" ry="3.51" fill="rgb(213, 165, 142)"/>
<ellipse cx="26.96" cy="456.12" rx="5.20" ry="4.68" fill="rgb(213, 168, 145)"/>
<ellipse cx="65.67" cy="454.74" rx="2.15" ry="2.16" fill="rgb(213, 168, 145)"/>
<ellipse cx="94.00" cy="453.28" rx="2.50" ry="2.07" fill="rgb(213, 166, 142)"/>
<ellipse cx="99.98" cy="455.34" rx="2.60" ry="2.16" fill="rgb(213, 166, 142)"/>
<ellipse cx="130.26" cy="453.98" rx="3.20" ry="3.19" fill="rgb(210, 160, 138)"/>
</g>
<g filter="url(#soft)">
<circle cx="29.01" cy="337.06" r="0.64" fill="rgb(222, 172, 147)" opacity="0.8"/>
<circle cx="28.72" cy="336.98" r="0.81" fill="rgb(153, 78, 57)" opacity="0.8"/>
<circle cx="29.18" cy="336.34" r="0.76" fill="rgb(153, 78, 57)" opacity="0.8"/>
<circle cx="30.86" cy="339.36" r="0.59" fill="rgb(153, 78, 57)" opacity="0.8"/>
<circle cx="59.66" cy="332.51" r="1.09" fill="rgb(230, 180, 154)" opacity="0.8"/>
<circle cx="57.56" cy="332.38" r="0.86" fill="rgb(230, 180, 154)" opacity="0.8"/>
<circle cx="56.27" cy="334.18" r="0.96" fill="rgb(230, 180, 154)" opacity="0.8"/>
<circle cx="60.85" cy="333.60" r="0.61" fill="rgb(230, 180, 154)" opacity="0.8"/>
<circle cx="54.86" cy="336.40" r="0.63" fill="rgb(230, 180, 154)" opacity="0.8"/>
<circle cx="62.49" cy="332.77" r="0.54" fill="rgb(157, 82, 61)" opacity="0.8"/>
<circle cx="56.97" cy="333.43" r="0.61" fill="rgb(157, 82, 61)" opacity="0.8"/>
<circle cx="59.03" cy="335.01" r="0.83" fill="rgb(157, 82, 61)" opacity="0.8"/>
<circle cx="56.94" cy="334.08" r="0.73" fill="rgb(157, 82, 61)" opacity="0.8"/>
<circle cx="56.81" cy="332.70" r="0.94" fill="rgb(230, 180, 154)" opacity="0.8"/>
<circle cx="56.55" cy="333.39" r="0.75" fill="rgb(157, 82, 61)" opacity="0.8"/>
<circle cx="66.12" cy="337.67" r="0.53" fill="rgb(157, 82, 61)" opacity="0.8"/>
<circle cx="67.34" cy="336.55" r="0.88" fill="rgb(230, 180, 154)" opacity="0.8"/>
<circle cx="67.09" cy="337.50" r="0.86" fill="rgb(230, 180, 154)" opacity="0.8"/>
<circle cx="66.04" cy="338.46" r="0.63" fill="rgb(230, 180, 154)" opacity="0.8"/>
<circle cx="66.42" cy="339.25" r="0.98" fill="rgb(230, 180, 154)" opacity="0.8"/>
<circle cx="88.35" cy="336.73" r="0.77" fill="rgb(217, 142, 127)" opacity="0.8"/>
<circle cx="89.40" cy="334.82" r="0.97" fill="rgb(217, 142, 127)" opacity="0.8"/>
<circle cx="88.20" cy="334.45" r="1.07" fill="rgb(217, 142, 127)" opacity="0.8"/>
<circle cx="90.50" cy="336.83" r="0.85" fill="rgb(217, 142, 127)" opacity="0.8"/>
<circle cx="96.19" cy="334.49" r="0.94" fill="rgb(182, 162, 150)" opacity="0.8"/>
<circle cx="96.60" cy="335.48" r="0.78" fill="rgb(103, 70, 65)" opacity="0.8"/>
<circle cx="94.82" cy="334.60" r="0.63" fill="rgb(182, 162, 150)" opacity="0.8"/>
<circle cx="117.43" cy="335.40" r="0.60" fill="rgb(145, 95, 67)" opacity="0.8"/>
<circle cx="117.41" cy="335.48" r="0.85" fill="rgb(145, 95, 67)" opacity="0.8"/>
<circle cx="116.55" cy="334.25" r="0.75" fill="rgb(222, 192, 157)" opacity="0.8"/>
<circle cx="116.46" cy="335.35" r="0.73" fill="rgb(222, 192, 157)" opacity="0.8"/>
<circle cx="121.76" cy="334.31" r="0.72" fill="rgb(222, 192, 157)" opacity="0.8"/>
<circle cx="61.01" cy="364.84" r="0.60" fill="rgb(227, 180, 147)" opacity="0.8"/>
<circle cx="59.05" cy="365.79" r="0.70" fill="rgb(227, 180, 147)" opacity="0.8"/>
<circle cx="140.19" cy="363.80" r="0.64" fill="rgb(227, 177, 147)" opacity="0.8"/>
<circle cx="28.01" cy="393.31" r="0.75" fill="rgb(217, 167, 144)" opacity="0.8"/>
<circle cx="28.55" cy="395.73" r="0.98" fill="rgb(217, 167, 144)" opacity="0.8"/>
<circle cx="26.00" cy="390.60" r="0.66" fill="rgb(140, 68, 53)" opacity="0.8"/>
<circle cx="25.66" cy="396.99" r="0.96" fill="rgb(217, 167, 144)" opacity="0.8"/>
<circle cx="28.05" cy="393.05" r="0.86" fill="rgb(140, 68, 53)" opacity="0.8"/>
<circle cx="25.34" cy="390.92" r="0.56" fill="rgb(140, 68, 53)" opacity="0.8"/>
<circle cx="25.41" cy="392.87" r="0.82" fill="rgb(140, 68, 53)" opacity="0.8"/>
<circle cx="63.17" cy="390.51" r="0.77" fill="rgb(125, 48, 37)" opacity="0.8"/>
<circle cx="61.52" cy="391.67" r="0.67" fill="rgb(202, 144, 127)" opacity="0.8"/>
<circle cx="61.58" cy="392.81" r="0.72" fill="rgb(125, 48, 37)" opacity="0.8"/>
<circle cx="59.86" cy="390.77" r="0.70" fill="rgb(125, 48, 37)" opacity="0.8"/>
<circle cx="65.64" cy="392.56" r="0.70" fill="rgb(125, 48, 37)" opacity="0.8"/>
<circle cx="90.10" cy="392.01" r="0.97" fill="rgb(207, 150, 132)" opacity="0.8"/>
<circle cx="92.40" cy="392.75" r="0.96" fill="rgb(207, 150, 132)" opacity="0.8"/>
<circle cx="93.13" cy="394.89" r="0.70" fill="rgb(130, 52, 40)" opacity="0.8"/>
<circle cx="91.13" cy="393.58" r="0.81" fill="rgb(130, 52, 40)" opacity="0.8"/>
<circle cx="117.33" cy="388.25" r="0.67" fill="rgb(232, 187, 162)" opacity="0.8"/>
<circle cx="119.42" cy="393.02" r="0.88" fill="rgb(232, 187, 162)" opacity="0.8"/>
<circle cx="119.78" cy="390.02" r="0.94" fill="rgb(232, 187, 162)" opacity="0.8"/>
<circle cx="118.41" cy="387.44" r="0.86" fill="rgb(232, 187, 162)" opacity="0.8"/>
<circle cx="117.43" cy="390.42" r="1.05" fill="rgb(232, 187, 162)" opacity="0.8"/>
<circle cx="124.79" cy="396.15" r="0.51" fill="rgb(157, 85, 67)" opacity="0.8"/>
<circle cx="121.95" cy="394.48" r="0.68" fill="rgb(157, 85, 67)" opacity="0.8"/>
<circle cx="28.33" cy="425.90" r="0.58" fill="rgb(147, 70, 53)" opacity="0.8"/>
<circle cx="27.64" cy="424.17" r="1.08" fill="rgb(222, 170, 147)" opacity="0.8"/>
<circle cx="32.36" cy="428.38" r="1.04" fill="rgb(222, 170, 147)" opacity="0.8"/>
<circle cx="28.03" cy="423.22" r="0.69" fill="rgb(147, 70, 53)" opacity="0.8"/>
<circle cx="28.52" cy="424.60" r="0.83" fill="rgb(222, 170, 147)" opacity="0.8"/>
<circle cx="28.18" cy="425.43" r="0.76" fill="rgb(222, 170, 147)" opacity="0.8"/>
<circle cx="28.51" cy="424.59" r="0.84" fill="rgb(147, 70, 53)" opacity="0.8"/>
<circle cx="33.23" cy="428.55" r="0.86" fill="rgb(147, 70, 53)" opacity="0.8"/>
<circle cx="27.85" cy="426.85" r="1.10" fill="rgb(222, 170, 147)" opacity="0.8"/>
<circle cx="26.36" cy="423.41" r="0.74" fill="rgb(222, 170, 147)" opacity="0.8"/>
<circle cx="29.18" cy="424.79" r="0.61" fill="rgb(147, 70, 53)" opacity="0.8"/>
<circle cx="30.10" cy="423.99" r="0.86" fill="rgb(222, 170, 147)" opacity="0.8"/>
<circle cx="59.91" cy="420.74" r="0.85" fill="rgb(167, 95, 77)" opacity="0.8"/>
<circle cx="60.22" cy="417.94" r="0.88" fill="rgb(167, 95, 77)" opacity="0.8"/>
<circle cx="57.44" cy="419.04" r="0.97" fill="rgb(237, 192, 170)" opacity="0.8"/>
<circle cx="62.34" cy="427.66" r="0.61" fill="rgb(167, 95, 77)" opacity="0.8"/>
<circle cx="66.71" cy="427.88" r="0.84" fill="rgb(237, 192, 170)" opacity="0.8"/>
<circle cx="63.85" cy="427.74" r="0.89" fill="rgb(167, 95, 77)" opacity="0.8"/>
<circle cx="96.86" cy="419.65" r="0.88" fill="rgb(235, 187, 164)" opacity="0.8"/>
<circle cx="96.57" cy="417.84" r="0.70" fill="rgb(235, 187, 164)" opacity="0.8"/>
<circle cx="98.36" cy="416.59" r="1.05" fill="rgb(235, 187, 164)" opacity="0.8"/>
<circle cx="99.79" cy="427.46" r="0.70" fill="rgb(235, 187, 164)" opacity="0.8"/>
<circle cx="98.93" cy="428.29" r="0.72" fill="rgb(235, 187, 164)" opacity="0.8"/>
<circle cx="97.24" cy="429.93" r="0.80" fill="rgb(163, 88, 70)" opacity="0.8"/>
<circle cx="95.52" cy="428.42" r="0.79" fill="rgb(235, 187, 164)" opacity="0.8"/>
<circle cx="97.23" cy="427.73" r="1.08" fill="rgb(235, 187, 164)" opacity="0.8"/>
<circle cx="99.28" cy="429.03" r="0.85" fill="rgb(163, 88, 70)" opacity="0.8"/>
<circle cx="125.44" cy="417.96" r="0.80" fill="rgb(235, 187, 164)" opacity="0.8"/>
<circle cx="121.42" cy="418.16" r="0.85" fill="rgb(163, 88, 70)" opacity="0.8"/>
<circle cx="125.33" cy="417.02" r="0.86" fill="rgb(163, 88, 70)" opacity="0.8"/>
<circle cx="122.77" cy="417.36" r="0.80" fill="rgb(235, 187, 164)" opacity="0.8"/>
<circle cx="132.23" cy="425.50" r="0.89" fill="rgb(163, 88, 70)" opacity="0.8"/>
<circle cx="128.41" cy="428.10" r="0.86" fill="rgb(235, 187, 164)" opacity="0.8"/>
<circle cx="126.38" cy="422.82" r="0.76" fill="rgb(163, 88, 70)" opacity="0.8"/>
<circle cx="128.62" cy="425.01" r="0.62" fill="rgb(235, 187, 164)" opacity="0.8"/>
<circle cx="128.64" cy="426.26" r="0.76" fill="rgb(163, 88, 70)" opacity="0.8"/>
<circle cx="128.18" cy="428.16" r="0.92" fill="rgb(235, 187, 164)" opacity="0.8"/>
<circle cx="128.22" cy="426.92" r="0.86" fill="rgb(235, 187, 164)" opacity="0.8"/>
<circle cx="126.66" cy="426.45" r="0.90" fill="rgb(235, 187, 164)" opacity="0.8"/>
<circle cx="30.19" cy="458.34" r="1.08" fill="rgb(235, 190, 167)" opacity="0.8"/>
<circle cx="24.04" cy="453.13" r="0.72" fill="rgb(235, 190, 167)" opacity="0.8"/>
<circle cx="28.13" cy="465.19" r="0.62" fill="rgb(165, 92, 73)" opacity="0.8"/>
<circle cx="31.59" cy="458.70" r="0.67" fill="rgb(165, 92, 73)" opacity="0.8"/>
<circle cx="27.78" cy="463.05" r="0.59" fill="rgb(165, 92, 73)" opacity="0.8"/>
<circle cx="30.40" cy="458.72" r="0.94" fill="rgb(235, 190, 167)" opacity="0.8"/>
<circle cx="29.86" cy="463.70" r="0.70" fill="rgb(165, 92, 73)" opacity="0.8"/>
<circle cx="29.96" cy="464.98" r="1.01" fill="rgb(235, 190, 167)" opacity="0.8"/>
<circle cx="28.19" cy="459.80" r="0.62" fill="rgb(165, 92, 73)" opacity="0.8"/>
<circle cx="31.45" cy="457.13" r="0.71" fill="rgb(235, 190, 167)" opacity="0.8"/>
<circle cx="23.80" cy="460.61" r="0.56" fill="rgb(165, 92, 73)" opacity="0.8"/>
<circle cx="26.78" cy="459.16" r="0.56" fill="rgb(165, 92, 73)" opacity="0.8"/>
<circle cx="28.41" cy="458.34" r="1.05" fill="rgb(235, 190, 167)" opacity="0.8"/>
<circle cx="31.97" cy="454.64" r="0.87" fill="rgb(165, 92, 73)" opacity="0.8"/>
<circle cx="65.83" cy="456.25" r="0.80" fill="rgb(167, 95, 75)" opacity="0.8"/>
<circle cx="68.06" cy="456.14" r="0.79" fill="rgb(235, 190, 167)" opacity="0.8"/>
<circle cx="65.85" cy="456.20" r="0.74" fill="rgb(235, 190, 167)" opacity="0.8"/>
<circle cx="92.51" cy="456.67" r="1.08" fill="rgb(235, 188, 164)" opacity="0.8"/>
<circle cx="94.83" cy="455.31" r="0.83" fill="rgb(165, 92, 73)" opacity="0.8"/>
<circle cx="94.34" cy="454.27" r="0.79" fill="rgb(235, 188, 164)" opacity="0.8"/>
<circle cx="101.11" cy="455.99" r="1.05" fill="rgb(235, 188, 164)" opacity="0.8"/>
<circle cx="101.97" cy="456.56" r="0.81" fill="rgb(165, 92, 73)" opacity="0.8"/>
<circle cx="100.62" cy="456.33" r="1.06" fill="rgb(235, 188, 164)" opacity="0.8"/>
<circle cx="100.38" cy="458.81" r="0.64" fill="rgb(165, 92, 73)" opacity="0.8"/>
<circle cx="130.30" cy="460.11" r="0.60" fill="rgb(160, 80, 65)" opacity="0.8"/>
<circle cx="130.60" cy="453.86" r="0.60" fill="rgb(232, 182, 160)" opacity="0.8"/>
<circle cx="131.05" cy="450.85" r="0.88" fill="rgb(160, 80, 65)" opacity="0.8"/>
<circle cx="131.94" cy="455.58" r="1.08" fill="rgb(232, 182, 160)" opacity="0.8"/>
<circle cx="132.56" cy="454.85" r="0.81" fill="rgb(232, 182, 160)" opacity="0.8"/>
<circle cx="126.75" cy="455.59" r="1.00" fill="rgb(232, 182, 160)" opacity="0.8"/>
</g>
<polygon points="28.60,355.0 33.50,363.1 23.70,363.1" fill="#151515"/>
<polygon points="90.40,355.0 95.30,363.1 85.50,363.1" fill="#151515"/>
<polygon points="116.90,355.0 121.80,363.1 112.00,363.1" fill="#151515"/>
<text x="149.30" y="336.70" font-size="8" text-anchor="start" fill="#231f20" >I</text>
<text x="149.30" y="363.30" font-size="8" text-anchor="start" fill="#231f20" >II</text>
<text x="149.30" y="392.60" font-size="8" text-anchor="start" fill="#231f20" >III</text>
<text x="149.30" y="425.00" font-size="8" text-anchor="start" fill="#231f20" >IV</text>
<text x="149.30" y="458.30" font-size="8" text-anchor="start" fill="#231f20" >V</text>
<text x="166.30" y="311.80" font-size="10.5" text-anchor="start" fill="#231f20" >D</text>
<line x1="196.20" y1="321.30" x2="196.20" y2="375.80" stroke="#231f20" stroke-width="1" />
<line x1="196.20" y1="380.20" x2="196.20" y2="433.90" stroke="#231f20" stroke-width="1" />
<line x1="193.20" y1="323.40" x2="196.20" y2="323.40" stroke="#231f20" stroke-width="1" />
<text x="190.90" y="326.20" font-size="8" text-anchor="end" fill="#231f20" >5</text>
<line x1="193.20" y1="339.90" x2="196.20" y2="339.90" stroke="#231f20" stroke-width="1" />
<text x="190.90" y="342.70" font-size="8" text-anchor="end" fill="#231f20" >4</text>
<line x1="193.20" y1="356.40" x2="196.20" y2="356.40" stroke="#231f20" stroke-width="1" />
<text x="190.90" y="359.20" font-size="8" text-anchor="end" fill="#231f20" >3</text>
<line x1="193.20" y1="372.90" x2="196.20" y2="372.90" stroke="#231f20" stroke-width="1" />
<text x="190.90" y="375.70" font-size="8" text-anchor="end" fill="#231f20" >2</text>
<line x1="193.70" y1="375.80" x2="198.70" y2="375.80" stroke="#231f20" stroke-width="1" />
<line x1="193.70" y1="380.20" x2="198.70" y2="380.20" stroke="#231f20" stroke-width="1" />
<line x1="193.20" y1="388.55" x2="196.20" y2="388.55" stroke="#231f20" stroke-width="1" />
<text x="190.90" y="391.35" font-size="8" text-anchor="end" fill="#231f20" >1.5</text>
<line x1="193.20" y1="403.50" x2="196.20" y2="403.50" stroke="#231f20" stroke-width="1" />
<text x="190.90" y="406.30" font-size="8" text-anchor="end" fill="#231f20" >1.0</text>
<line x1="193.20" y1="418.45" x2="196.20" y2="418.45" stroke="#231f20" stroke-width="1" />
<text x="190.90" y="421.25" font-size="8" text-anchor="end" fill="#231f20" >0.5</text>
<line x1="193.20" y1="433.40" x2="196.20" y2="433.40" stroke="#231f20" stroke-width="1" />
<text x="190.90" y="436.20" font-size="8" text-anchor="end" fill="#231f20" >0.0</text>
<line x1="195.70" y1="433.40" x2="306.80" y2="433.40" stroke="#231f20" stroke-width="1" />
<line x1="207.30" y1="433.40" x2="207.30" y2="436.40" stroke="#231f20" stroke-width="1" />
<text x="207.30" y="446.20" font-size="8" text-anchor="middle" fill="#231f20" >I</text>
<line x1="229.40" y1="433.40" x2="229.40" y2="436.40" stroke="#231f20" stroke-width="1" />
<text x="229.40" y="446.20" font-size="8" text-anchor="middle" fill="#231f20" >II</text>
<line x1="251.50" y1="433.40" x2="251.50" y2="436.40" stroke="#231f20" stroke-width="1" />
<text x="251.50" y="446.20" font-size="8" text-anchor="middle" fill="#231f20" >III</text>
<line x1="273.60" y1="433.40" x2="273.60" y2="436.40" stroke="#231f20" stroke-width="1" />
<text x="273.60" y="446.20" font-size="8" text-anchor="middle" fill="#231f20" >IV</text>
<line x1="295.70" y1="433.40" x2="295.70" y2="436.40" stroke="#231f20" stroke-width="1" />
<text x="295.70" y="446.20" font-size="8" text-anchor="middle" fill="#231f20" >V</text>
<text x="251.50" y="461.30" font-size="9.6" text-anchor="middle" fill="#231f20" textLength="29.5" lengthAdjust="spacingAndGlyphs" >Groups</text>
<text transform="translate(173.20,377.2) rotate(-90)" font-size="9.5" text-anchor="middle" fill="#231f20" textLength="42.5" lengthAdjust="spacingAndGlyphs">Weight (g)</text>
<circle cx="207.50" cy="333.10" r="2.5" fill="#b3233b"/>
<circle cx="207.30" cy="399.40" r="2.5" fill="#b3233b"/>
<circle cx="203.80" cy="408.10" r="2.5" fill="#b3233b"/>
<circle cx="210.90" cy="404.20" r="2.5" fill="#b3233b"/>
<line x1="199.90" y1="375.30" x2="214.80" y2="375.30" stroke="#231f20" stroke-width="1" />
<line x1="207.30" y1="361.20" x2="207.30" y2="375.80" stroke="#231f20" stroke-width="1" />
<line x1="204.50" y1="361.20" x2="210.10" y2="361.20" stroke="#231f20" stroke-width="1" />
<line x1="207.30" y1="380.20" x2="207.30" y2="403.60" stroke="#231f20" stroke-width="1" />
<line x1="204.50" y1="403.60" x2="210.10" y2="403.60" stroke="#231f20" stroke-width="1" />
<rect x="227.20" y="423.00" width="4.4" height="4.4" fill="#2f5e97"/>
<rect x="223.30" y="429.80" width="4.4" height="4.4" fill="#2f5e97"/>
<rect x="227.30" y="430.30" width="4.4" height="4.4" fill="#2f5e97"/>
<rect x="231.10" y="429.30" width="4.4" height="4.4" fill="#2f5e97"/>
<rect x="225.80" y="427.80" width="4.4" height="4.4" fill="#2f5e97"/>
<line x1="222.50" y1="431.40" x2="236.30" y2="431.40" stroke="#231f20" stroke-width="1" />
<line x1="226.80" y1="429.00" x2="232.00" y2="429.00" stroke="#231f20" stroke-width="1" />
<polygon points="251.50,397.80 254.20,402.90 248.80,402.90" fill="#6db34c"/>
<polygon points="248.00,401.50 250.70,406.60 245.30,406.60" fill="#6db34c"/>
<polygon points="255.30,405.60 258.00,410.70 252.60,410.70" fill="#6db34c"/>
<polygon points="251.50,413.70 254.20,418.80 248.80,418.80" fill="#6db34c"/>
<line x1="244.60" y1="406.90" x2="258.40" y2="406.90" stroke="#231f20" stroke-width="1" />
<line x1="251.50" y1="404.30" x2="251.50" y2="409.60" stroke="#231f20" stroke-width="1" />
<line x1="249.00" y1="404.30" x2="254.00" y2="404.30" stroke="#231f20" stroke-width="1" />
<line x1="249.00" y1="409.60" x2="254.00" y2="409.60" stroke="#231f20" stroke-width="1" />
<polygon points="271.00,360.80 276.40,360.80 273.70,365.90" fill="#5c2b68"/>
<polygon points="267.70,379.20 273.10,379.20 270.40,384.30" fill="#5c2b68"/>
<polygon points="274.70,381.90 280.10,381.90 277.40,387.00" fill="#5c2b68"/>
<polygon points="271.00,401.60 276.40,401.60 273.70,406.70" fill="#5c2b68"/>
<line x1="266.60" y1="382.30" x2="280.80" y2="382.30" stroke="#231f20" stroke-width="1" />
<line x1="273.70" y1="372.30" x2="273.70" y2="375.80" stroke="#231f20" stroke-width="1" />
<line x1="271.00" y1="372.30" x2="276.40" y2="372.30" stroke="#231f20" stroke-width="1" />
<line x1="273.70" y1="380.20" x2="273.70" y2="391.50" stroke="#231f20" stroke-width="1" />
<line x1="271.00" y1="391.50" x2="276.40" y2="391.50" stroke="#231f20" stroke-width="1" />
<polygon points="295.40,352.80 298.00,355.40 295.40,358.00 292.80,355.40" fill="#e0891f"/>
<polygon points="292.20,397.80 294.80,400.40 292.20,403.00 289.60,400.40" fill="#e0891f"/>
<polygon points="299.20,399.60 301.80,402.20 299.20,404.80 296.60,402.20" fill="#e0891f"/>
<polygon points="295.40,408.30 298.00,410.90 295.40,413.50 292.80,410.90" fill="#e0891f"/>
<line x1="288.20" y1="389.20" x2="302.60" y2="389.20" stroke="#231f20" stroke-width="1" />
<line x1="295.70" y1="372.80" x2="295.70" y2="375.80" stroke="#231f20" stroke-width="1" />
<line x1="293.00" y1="372.80" x2="298.40" y2="372.80" stroke="#231f20" stroke-width="1" />
<line x1="295.70" y1="380.20" x2="295.70" y2="404.70" stroke="#231f20" stroke-width="1" />
<line x1="293.00" y1="404.70" x2="298.40" y2="404.70" stroke="#231f20" stroke-width="1" />
<line x1="206.40" y1="324.00" x2="232.60" y2="324.00" stroke="#231f20" stroke-width="1" />
<path d="M217.90,318.60L217.90,321.40M216.69,319.30L219.11,320.70M216.69,320.70L219.11,319.30" stroke="#231f20" stroke-width="0.95" fill="none"/>
<path d="M221.10,318.60L221.10,321.40M219.89,319.30L222.31,320.70M219.89,320.70L222.31,319.30" stroke="#231f20" stroke-width="0.95" fill="none"/>
<line x1="224.80" y1="375.40" x2="251.20" y2="375.40" stroke="#231f20" stroke-width="1" />
<path d="M236.40,370.20L236.40,373.00M235.19,370.90L237.61,372.30M235.19,372.30L237.61,370.90" stroke="#231f20" stroke-width="0.95" fill="none"/>
<path d="M239.60,370.20L239.60,373.00M238.39,370.90L240.81,372.30M238.39,372.30L240.81,370.90" stroke="#231f20" stroke-width="0.95" fill="none"/>
<line x1="271.20" y1="346.70" x2="297.30" y2="346.70" stroke="#231f20" stroke-width="1" />
<text x="284.30" y="345.00" font-size="7.5" text-anchor="middle" fill="#231f20" >ns</text>
<text x="318.00" y="312.00" font-size="10.5" text-anchor="start" fill="#231f20" >E</text>
<line x1="358.30" y1="328.20" x2="358.30" y2="434.20" stroke="#231f20" stroke-width="1" />
<line x1="357.80" y1="433.70" x2="512.60" y2="433.70" stroke="#231f20" stroke-width="1" />
<line x1="355.30" y1="433.70" x2="358.30" y2="433.70" stroke="#231f20" stroke-width="1" />
<text x="353.00" y="436.50" font-size="8" text-anchor="end" fill="#231f20" >0</text>
<line x1="355.30" y1="408.03" x2="358.30" y2="408.03" stroke="#231f20" stroke-width="1" />
<text x="353.00" y="410.83" font-size="8" text-anchor="end" fill="#231f20" >600</text>
<line x1="355.30" y1="382.36" x2="358.30" y2="382.36" stroke="#231f20" stroke-width="1" />
<text x="353.00" y="385.16" font-size="8" text-anchor="end" fill="#231f20" >1200</text>
<line x1="355.30" y1="356.69" x2="358.30" y2="356.69" stroke="#231f20" stroke-width="1" />
<text x="353.00" y="359.49" font-size="8" text-anchor="end" fill="#231f20" >1800</text>
<line x1="355.30" y1="331.02" x2="358.30" y2="331.02" stroke="#231f20" stroke-width="1" />
<text x="353.00" y="333.82" font-size="8" text-anchor="end" fill="#231f20" >2400</text>
<line x1="367.80" y1="433.70" x2="367.80" y2="436.70" stroke="#231f20" stroke-width="1" />
<text x="367.80" y="446.80" font-size="8" text-anchor="middle" fill="#231f20" >D7</text>
<line x1="387.15" y1="433.70" x2="387.15" y2="436.70" stroke="#231f20" stroke-width="1" />
<text x="387.15" y="446.80" font-size="8" text-anchor="middle" fill="#231f20" >D10</text>
<line x1="406.50" y1="433.70" x2="406.50" y2="436.70" stroke="#231f20" stroke-width="1" />
<text x="406.50" y="446.80" font-size="8" text-anchor="middle" fill="#231f20" >D13</text>
<line x1="425.85" y1="433.70" x2="425.85" y2="436.70" stroke="#231f20" stroke-width="1" />
<text x="425.85" y="446.80" font-size="8" text-anchor="middle" fill="#231f20" >D15</text>
<line x1="445.20" y1="433.70" x2="445.20" y2="436.70" stroke="#231f20" stroke-width="1" />
<text x="445.20" y="446.80" font-size="8" text-anchor="middle" fill="#231f20" >D17</text>
<line x1="464.55" y1="433.70" x2="464.55" y2="436.70" stroke="#231f20" stroke-width="1" />
<text x="464.55" y="446.80" font-size="8" text-anchor="middle" fill="#231f20" >D19</text>
<line x1="483.90" y1="433.70" x2="483.90" y2="436.70" stroke="#231f20" stroke-width="1" />
<text x="483.90" y="446.80" font-size="8" text-anchor="middle" fill="#231f20" >D22</text>
<line x1="503.25" y1="433.70" x2="503.25" y2="436.70" stroke="#231f20" stroke-width="1" />
<text x="503.25" y="446.80" font-size="8" text-anchor="middle" fill="#231f20" >D25</text>
<text x="435.40" y="460.70" font-size="9.8" text-anchor="middle" fill="#231f20" textLength="104.5" lengthAdjust="spacingAndGlyphs" >Days post tumor injection</text>
<text transform="translate(329.00,381.0) rotate(-90)" font-size="9.5" text-anchor="middle" fill="#231f20" textLength="58.5" lengthAdjust="spacingAndGlyphs">Volume (mm<tspan font-size="6.5" dy="-3">3</tspan><tspan dy="3">)</tspan></text>
<polyline points="367.80,424.42 387.15,422.28 406.50,420.18 425.85,418.08 445.20,415.00 464.55,412.61 483.90,398.79 503.25,370.38" fill="none" stroke="#5d2a6b" stroke-width="1.6"/>
<rect x="365.50" y="422.12" width="4.6" height="4.6" fill="#5d2a6b"/>
<rect x="384.85" y="419.98" width="4.6" height="4.6" fill="#5d2a6b"/>
<rect x="404.20" y="417.88" width="4.6" height="4.6" fill="#5d2a6b"/>
<rect x="423.55" y="415.78" width="4.6" height="4.6" fill="#5d2a6b"/>
<rect x="442.90" y="412.70" width="4.6" height="4.6" fill="#5d2a6b"/>
<rect x="462.25" y="410.31" width="4.6" height="4.6" fill="#5d2a6b"/>
<rect x="481.60" y="396.49" width="4.6" height="4.6" fill="#5d2a6b"/>
<rect x="500.95" y="368.08" width="4.6" height="4.6" fill="#5d2a6b"/>
<polyline points="367.80,430.58 387.15,426.38 406.50,424.20 425.85,423.22 445.20,414.45 464.55,410.38 483.90,404.18 503.25,389.63" fill="none" stroke="#6aaf4a" stroke-width="1.6"/>
<polygon points="367.80,427.98 370.40,432.88 365.20,432.88" fill="#6aaf4a"/>
<polygon points="387.15,423.78 389.75,428.68 384.55,428.68" fill="#6aaf4a"/>
<polygon points="406.50,421.60 409.10,426.50 403.90,426.50" fill="#6aaf4a"/>
<polygon points="425.85,420.62 428.45,425.52 423.25,425.52" fill="#6aaf4a"/>
<polygon points="445.20,411.85 447.80,416.75 442.60,416.75" fill="#6aaf4a"/>
<polygon points="464.55,407.78 467.15,412.68 461.95,412.68" fill="#6aaf4a"/>
<polygon points="483.90,401.58 486.50,406.48 481.30,406.48" fill="#6aaf4a"/>
<polygon points="503.25,387.03 505.85,391.93 500.65,391.93" fill="#6aaf4a"/>
<polyline points="367.80,428.48 387.15,424.97 406.50,421.29 425.85,423.47 445.20,420.39 464.55,419.11 483.90,405.76 503.25,390.19" fill="none" stroke="#eb9a2c" stroke-width="1.6"/>
<polygon points="367.80,425.88 370.40,430.78 365.20,430.78" fill="#eb9a2c"/>
<polygon points="387.15,422.37 389.75,427.27 384.55,427.27" fill="#eb9a2c"/>
<polygon points="406.50,418.69 409.10,423.59 403.90,423.59" fill="#eb9a2c"/>
<polygon points="425.85,420.87 428.45,425.77 423.25,425.77" fill="#eb9a2c"/>
<polygon points="445.20,417.79 447.80,422.69 442.60,422.69" fill="#eb9a2c"/>
<polygon points="464.55,416.51 467.15,421.41 461.95,421.41" fill="#eb9a2c"/>
<polygon points="483.90,403.16 486.50,408.06 481.30,408.06" fill="#eb9a2c"/>
<polygon points="503.25,387.59 505.85,392.49 500.65,392.49" fill="#eb9a2c"/>
<polyline points="367.80,425.01 387.15,419.20 406.50,410.38 425.85,410.00 445.20,402.25 464.55,389.38 483.90,379.37 503.25,358.40" fill="none" stroke="#b01f3b" stroke-width="1.6"/>
<circle cx="367.80" cy="425.01" r="2.3" fill="#b01f3b"/>
<circle cx="387.15" cy="419.20" r="2.3" fill="#b01f3b"/>
<circle cx="406.50" cy="410.38" r="2.3" fill="#b01f3b"/>
<circle cx="425.85" cy="410.00" r="2.3" fill="#b01f3b"/>
<circle cx="445.20" cy="402.25" r="2.3" fill="#b01f3b"/>
<circle cx="464.55" cy="389.38" r="2.3" fill="#b01f3b"/>
<circle cx="483.90" cy="379.37" r="2.3" fill="#b01f3b"/>
<circle cx="503.25" cy="358.40" r="2.3" fill="#b01f3b"/>
<line x1="367.80" y1="418.73" x2="367.80" y2="424.42" stroke="#231f20" stroke-width="0.9" />
<line x1="365.60" y1="418.73" x2="370.00" y2="418.73" stroke="#231f20" stroke-width="0.9" />
<line x1="387.15" y1="415.73" x2="387.15" y2="422.28" stroke="#231f20" stroke-width="0.9" />
<line x1="384.95" y1="415.73" x2="389.35" y2="415.73" stroke="#231f20" stroke-width="0.9" />
<line x1="406.50" y1="415.30" x2="406.50" y2="420.18" stroke="#231f20" stroke-width="0.9" />
<line x1="404.30" y1="415.30" x2="408.70" y2="415.30" stroke="#231f20" stroke-width="0.9" />
<line x1="445.20" y1="409.74" x2="445.20" y2="415.00" stroke="#231f20" stroke-width="0.9" />
<line x1="443.00" y1="409.74" x2="447.40" y2="409.74" stroke="#231f20" stroke-width="0.9" />
<line x1="464.55" y1="403.75" x2="464.55" y2="412.61" stroke="#231f20" stroke-width="0.9" />
<line x1="462.35" y1="403.75" x2="466.75" y2="403.75" stroke="#231f20" stroke-width="0.9" />
<line x1="483.90" y1="390.49" x2="483.90" y2="398.79" stroke="#231f20" stroke-width="0.9" />
<line x1="481.70" y1="390.49" x2="486.10" y2="390.49" stroke="#231f20" stroke-width="0.9" />
<line x1="503.25" y1="347.71" x2="503.25" y2="370.38" stroke="#231f20" stroke-width="0.9" />
<line x1="501.05" y1="347.71" x2="505.45" y2="347.71" stroke="#231f20" stroke-width="0.9" />
<line x1="367.80" y1="419.58" x2="367.80" y2="425.01" stroke="#231f20" stroke-width="0.9" />
<line x1="365.60" y1="419.58" x2="370.00" y2="419.58" stroke="#231f20" stroke-width="0.9" />
<line x1="387.15" y1="414.88" x2="387.15" y2="419.20" stroke="#231f20" stroke-width="0.9" />
<line x1="384.95" y1="414.88" x2="389.35" y2="414.88" stroke="#231f20" stroke-width="0.9" />
<line x1="406.50" y1="406.32" x2="406.50" y2="410.38" stroke="#231f20" stroke-width="0.9" />
<line x1="404.30" y1="406.32" x2="408.70" y2="406.32" stroke="#231f20" stroke-width="0.9" />
<line x1="425.85" y1="406.32" x2="425.85" y2="410.00" stroke="#231f20" stroke-width="0.9" />
<line x1="423.65" y1="406.32" x2="428.05" y2="406.32" stroke="#231f20" stroke-width="0.9" />
<line x1="445.20" y1="393.70" x2="445.20" y2="402.25" stroke="#231f20" stroke-width="0.9" />
<line x1="443.00" y1="393.70" x2="447.40" y2="393.70" stroke="#231f20" stroke-width="0.9" />
<line x1="464.55" y1="375.26" x2="464.55" y2="389.38" stroke="#231f20" stroke-width="0.9" />
<line x1="462.35" y1="375.26" x2="466.75" y2="375.26" stroke="#231f20" stroke-width="0.9" />
<line x1="483.90" y1="362.25" x2="483.90" y2="379.37" stroke="#231f20" stroke-width="0.9" />
<line x1="481.70" y1="362.25" x2="486.10" y2="362.25" stroke="#231f20" stroke-width="0.9" />
<line x1="503.25" y1="334.74" x2="503.25" y2="358.40" stroke="#231f20" stroke-width="0.9" />
<line x1="501.05" y1="334.74" x2="505.45" y2="334.74" stroke="#231f20" stroke-width="0.9" />
<polyline points="367.80,433.49 387.15,433.49 406.50,433.27 425.85,433.27 445.20,433.06 464.55,433.06 483.90,432.42 503.25,431.13" fill="none" stroke="#2a4676" stroke-width="1.5"/>
<line x1="406.50" y1="429.50" x2="406.50" y2="435.70" stroke="#231f20" stroke-width="0.9" />
<line x1="404.40" y1="429.50" x2="408.60" y2="429.50" stroke="#231f20" stroke-width="0.9" />
<line x1="404.40" y1="435.70" x2="408.60" y2="435.70" stroke="#231f20" stroke-width="0.9" />
<line x1="445.20" y1="430.80" x2="445.20" y2="435.20" stroke="#231f20" stroke-width="0.9" />
<line x1="443.10" y1="430.80" x2="447.30" y2="430.80" stroke="#231f20" stroke-width="0.9" />
<line x1="443.10" y1="435.20" x2="447.30" y2="435.20" stroke="#231f20" stroke-width="0.9" />
<line x1="464.55" y1="430.80" x2="464.55" y2="435.20" stroke="#231f20" stroke-width="0.9" />
<line x1="462.45" y1="430.80" x2="466.65" y2="430.80" stroke="#231f20" stroke-width="0.9" />
<line x1="462.45" y1="435.20" x2="466.65" y2="435.20" stroke="#231f20" stroke-width="0.9" />
<line x1="483.90" y1="428.60" x2="483.90" y2="435.50" stroke="#231f20" stroke-width="0.9" />
<line x1="481.80" y1="428.60" x2="486.00" y2="428.60" stroke="#231f20" stroke-width="0.9" />
<line x1="481.80" y1="435.50" x2="486.00" y2="435.50" stroke="#231f20" stroke-width="0.9" />
<line x1="503.25" y1="426.40" x2="503.25" y2="435.00" stroke="#231f20" stroke-width="0.9" />
<line x1="501.15" y1="426.40" x2="505.35" y2="426.40" stroke="#231f20" stroke-width="0.9" />
<line x1="501.15" y1="435.00" x2="505.35" y2="435.00" stroke="#231f20" stroke-width="0.9" />
<circle cx="367.80" cy="433.49" r="1.95" fill="#fff" stroke="#2a4676" stroke-width="1.1"/>
<circle cx="387.15" cy="433.49" r="1.95" fill="#fff" stroke="#2a4676" stroke-width="1.1"/>
<circle cx="406.50" cy="433.27" r="1.95" fill="#fff" stroke="#2a4676" stroke-width="1.1"/>
<circle cx="425.85" cy="433.27" r="1.95" fill="#fff" stroke="#2a4676" stroke-width="1.1"/>
<circle cx="445.20" cy="433.06" r="1.95" fill="#fff" stroke="#2a4676" stroke-width="1.1"/>
<circle cx="464.55" cy="433.06" r="1.95" fill="#fff" stroke="#2a4676" stroke-width="1.1"/>
<circle cx="483.90" cy="432.42" r="1.95" fill="#fff" stroke="#2a4676" stroke-width="1.1"/>
<circle cx="503.25" cy="431.13" r="1.95" fill="#fff" stroke="#2a4676" stroke-width="1.1"/>
<path d="M445.20,425.90L445.20,428.70M443.99,426.60L446.41,428.00M443.99,428.00L446.41,426.60" stroke="#231f20" stroke-width="0.95" fill="none"/>
<path d="M464.55,425.90L464.55,428.70M463.34,426.60L465.76,428.00M463.34,428.00L465.76,426.60" stroke="#231f20" stroke-width="0.95" fill="none"/>
<path d="M482.30,422.10L482.30,424.90M481.09,422.80L483.51,424.20M481.09,424.20L483.51,422.80" stroke="#231f20" stroke-width="0.95" fill="none"/>
<path d="M485.50,422.10L485.50,424.90M484.29,422.80L486.71,424.20M484.29,424.20L486.71,422.80" stroke="#231f20" stroke-width="0.95" fill="none"/>
<path d="M501.65,420.60L501.65,423.40M500.44,421.30L502.86,422.70M500.44,422.70L502.86,421.30" stroke="#231f20" stroke-width="0.95" fill="none"/>
<path d="M504.85,420.60L504.85,423.40M503.64,421.30L506.06,422.70M503.64,422.70L506.06,421.30" stroke="#231f20" stroke-width="0.95" fill="none"/>
<line x1="361.40" y1="334.90" x2="370.60" y2="334.90" stroke="#b01f3b" stroke-width="1.4" />
<circle cx="366.00" cy="334.90" r="2.2" fill="#b01f3b"/>
<text x="373.60" y="337.80" font-size="8" text-anchor="start" fill="#231f20" >I</text>
<line x1="361.40" y1="346.50" x2="370.60" y2="346.50" stroke="#2a4676" stroke-width="1.4" />
<circle cx="366.00" cy="346.50" r="1.65" fill="#fff" stroke="#2a4676" stroke-width="1.1"/>
<text x="373.60" y="349.40" font-size="8" text-anchor="start" fill="#231f20" >II</text>
<line x1="361.40" y1="357.70" x2="370.60" y2="357.70" stroke="#6aaf4a" stroke-width="1.4" />
<polygon points="366.00,355.20 368.50,359.90 363.50,359.90" fill="#6aaf4a"/>
<text x="373.60" y="360.60" font-size="8" text-anchor="start" fill="#231f20" >III</text>
<line x1="361.40" y1="369.40" x2="370.60" y2="369.40" stroke="#5d2a6b" stroke-width="1.4" />
<rect x="363.80" y="367.20" width="4.4" height="4.4" fill="#5d2a6b"/>
<text x="373.60" y="372.30" font-size="8" text-anchor="start" fill="#231f20" >IV</text>
<line x1="361.40" y1="380.60" x2="370.60" y2="380.60" stroke="#eb9a2c" stroke-width="1.4" />
<polygon points="366.00,378.10 368.50,382.80 363.50,382.80" fill="#eb9a2c"/>
<text x="373.60" y="383.50" font-size="8" text-anchor="start" fill="#231f20" >V</text>
<rect x="0.5" y="0.5" width="519" height="480" fill="none" stroke="#000" stroke-width="1"/>
</svg>
</body></html>
